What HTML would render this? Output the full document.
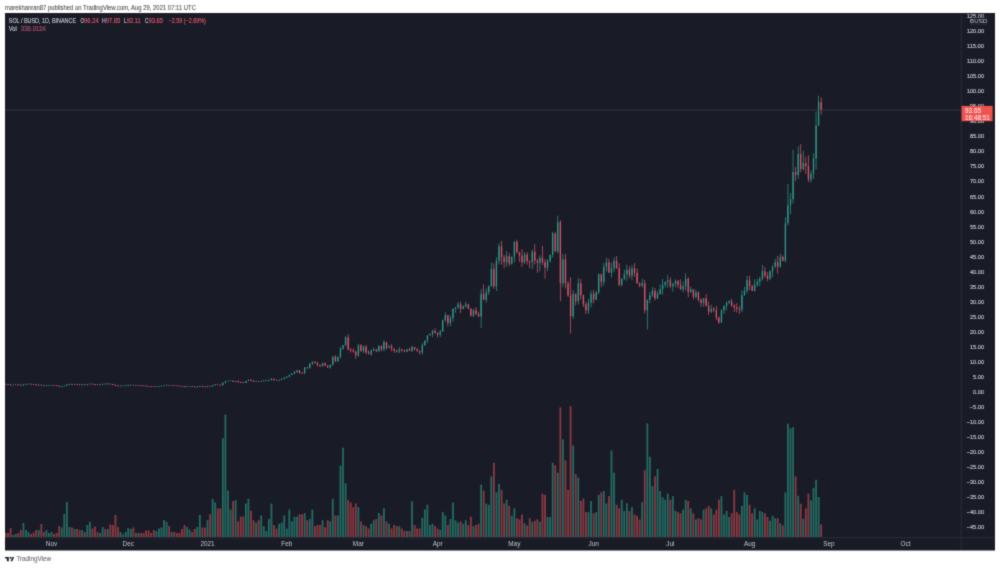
<!DOCTYPE html>
<html><head><meta charset="utf-8"><style>
html,body{margin:0;padding:0;background:#fff;width:1000px;height:568px;overflow:hidden}
svg{display:block} #w{will-change:transform;width:1000px;height:568px}
</style></head><body><div id="w">
<svg width="1000" height="568" viewBox="0 0 1000 568"><filter id="bl" x="0" y="0" width="1000" height="568" filterUnits="userSpaceOnUse" color-interpolation-filters="sRGB"><feConvolveMatrix order="3" kernelMatrix="1 2 1 2 14 2 1 2 1" edgeMode="duplicate" preserveAlpha="true"/></filter><g filter="url(#bl)"><rect x="0" y="0" width="1000" height="568" fill="#ffffff"/><rect x="5" y="13" width="990" height="537.5" fill="#191b26"/><clipPath id="cp"><rect x="5" y="13.5" width="956" height="524"/></clipPath><clipPath id="ca"><rect x="5" y="13.5" width="990" height="537"/></clipPath><g clip-path="url(#cp)"><rect x="2.04" y="530.00" width="1.8" height="7.00" fill="#236d64"/><rect x="4.60" y="533.00" width="1.8" height="4.00" fill="#8e3a42"/><rect x="7.15" y="533.00" width="1.8" height="4.00" fill="#8e3a42"/><rect x="9.71" y="528.00" width="1.8" height="9.00" fill="#8e3a42"/><rect x="12.27" y="535.00" width="1.8" height="2.00" fill="#236d64"/><rect x="14.82" y="534.00" width="1.8" height="3.00" fill="#236d64"/><rect x="17.38" y="533.00" width="1.8" height="4.00" fill="#8e3a42"/><rect x="19.94" y="530.00" width="1.8" height="7.00" fill="#8e3a42"/><rect x="22.50" y="523.00" width="1.8" height="14.00" fill="#236d64"/><rect x="25.05" y="530.00" width="1.8" height="7.00" fill="#236d64"/><rect x="27.61" y="532.00" width="1.8" height="5.00" fill="#236d64"/><rect x="30.17" y="534.00" width="1.8" height="3.00" fill="#8e3a42"/><rect x="32.72" y="532.50" width="1.8" height="4.50" fill="#8e3a42"/><rect x="35.28" y="530.00" width="1.8" height="7.00" fill="#8e3a42"/><rect x="37.84" y="530.00" width="1.8" height="7.00" fill="#236d64"/><rect x="40.40" y="524.00" width="1.8" height="13.00" fill="#8e3a42"/><rect x="42.95" y="532.00" width="1.8" height="5.00" fill="#8e3a42"/><rect x="45.51" y="530.00" width="1.8" height="7.00" fill="#236d64"/><rect x="48.07" y="533.00" width="1.8" height="4.00" fill="#236d64"/><rect x="50.62" y="532.00" width="1.8" height="5.00" fill="#236d64"/><rect x="53.18" y="534.00" width="1.8" height="3.00" fill="#8e3a42"/><rect x="55.74" y="533.00" width="1.8" height="4.00" fill="#8e3a42"/><rect x="58.29" y="526.00" width="1.8" height="11.00" fill="#8e3a42"/><rect x="60.85" y="527.50" width="1.8" height="9.50" fill="#236d64"/><rect x="63.41" y="514.00" width="1.8" height="23.00" fill="#236d64"/><rect x="65.97" y="502.00" width="1.8" height="35.00" fill="#236d64"/><rect x="68.52" y="527.00" width="1.8" height="10.00" fill="#236d64"/><rect x="71.08" y="527.50" width="1.8" height="9.50" fill="#8e3a42"/><rect x="73.64" y="529.00" width="1.8" height="8.00" fill="#236d64"/><rect x="76.19" y="529.00" width="1.8" height="8.00" fill="#8e3a42"/><rect x="78.75" y="530.00" width="1.8" height="7.00" fill="#8e3a42"/><rect x="81.31" y="530.00" width="1.8" height="7.00" fill="#236d64"/><rect x="83.86" y="532.00" width="1.8" height="5.00" fill="#8e3a42"/><rect x="86.42" y="525.00" width="1.8" height="12.00" fill="#236d64"/><rect x="88.98" y="522.00" width="1.8" height="15.00" fill="#236d64"/><rect x="91.53" y="528.50" width="1.8" height="8.50" fill="#8e3a42"/><rect x="94.09" y="526.50" width="1.8" height="10.50" fill="#8e3a42"/><rect x="96.65" y="532.00" width="1.8" height="5.00" fill="#8e3a42"/><rect x="99.21" y="533.00" width="1.8" height="4.00" fill="#236d64"/><rect x="101.76" y="527.00" width="1.8" height="10.00" fill="#236d64"/><rect x="104.32" y="529.00" width="1.8" height="8.00" fill="#8e3a42"/><rect x="106.88" y="529.00" width="1.8" height="8.00" fill="#236d64"/><rect x="109.43" y="524.50" width="1.8" height="12.50" fill="#8e3a42"/><rect x="111.99" y="525.00" width="1.8" height="12.00" fill="#8e3a42"/><rect x="114.55" y="515.00" width="1.8" height="22.00" fill="#8e3a42"/><rect x="117.10" y="527.00" width="1.8" height="10.00" fill="#8e3a42"/><rect x="119.66" y="532.00" width="1.8" height="5.00" fill="#236d64"/><rect x="122.22" y="534.50" width="1.8" height="2.50" fill="#236d64"/><rect x="124.78" y="532.00" width="1.8" height="5.00" fill="#236d64"/><rect x="127.33" y="528.00" width="1.8" height="9.00" fill="#236d64"/><rect x="129.89" y="529.00" width="1.8" height="8.00" fill="#236d64"/><rect x="132.45" y="527.50" width="1.8" height="9.50" fill="#8e3a42"/><rect x="135.00" y="533.00" width="1.8" height="4.00" fill="#8e3a42"/><rect x="137.56" y="533.00" width="1.8" height="4.00" fill="#236d64"/><rect x="140.12" y="533.00" width="1.8" height="4.00" fill="#8e3a42"/><rect x="142.67" y="533.00" width="1.8" height="4.00" fill="#8e3a42"/><rect x="145.23" y="530.50" width="1.8" height="6.50" fill="#8e3a42"/><rect x="147.79" y="530.50" width="1.8" height="6.50" fill="#8e3a42"/><rect x="150.35" y="533.00" width="1.8" height="4.00" fill="#8e3a42"/><rect x="152.90" y="530.00" width="1.8" height="7.00" fill="#8e3a42"/><rect x="155.46" y="531.00" width="1.8" height="6.00" fill="#236d64"/><rect x="158.02" y="528.50" width="1.8" height="8.50" fill="#236d64"/><rect x="160.57" y="527.50" width="1.8" height="9.50" fill="#236d64"/><rect x="163.13" y="520.00" width="1.8" height="17.00" fill="#236d64"/><rect x="165.69" y="522.00" width="1.8" height="15.00" fill="#236d64"/><rect x="168.25" y="526.00" width="1.8" height="11.00" fill="#8e3a42"/><rect x="170.80" y="532.00" width="1.8" height="5.00" fill="#236d64"/><rect x="173.36" y="532.00" width="1.8" height="5.00" fill="#8e3a42"/><rect x="175.92" y="533.00" width="1.8" height="4.00" fill="#8e3a42"/><rect x="178.47" y="533.00" width="1.8" height="4.00" fill="#8e3a42"/><rect x="181.03" y="529.00" width="1.8" height="8.00" fill="#8e3a42"/><rect x="183.59" y="525.00" width="1.8" height="12.00" fill="#8e3a42"/><rect x="186.14" y="527.00" width="1.8" height="10.00" fill="#236d64"/><rect x="188.70" y="529.50" width="1.8" height="7.50" fill="#236d64"/><rect x="191.26" y="532.00" width="1.8" height="5.00" fill="#8e3a42"/><rect x="193.81" y="529.00" width="1.8" height="8.00" fill="#8e3a42"/><rect x="196.37" y="527.00" width="1.8" height="10.00" fill="#236d64"/><rect x="198.93" y="515.00" width="1.8" height="22.00" fill="#236d64"/><rect x="201.49" y="527.50" width="1.8" height="9.50" fill="#8e3a42"/><rect x="204.04" y="527.50" width="1.8" height="9.50" fill="#8e3a42"/><rect x="206.60" y="520.20" width="1.8" height="16.80" fill="#236d64"/><rect x="209.16" y="514.26" width="1.8" height="22.74" fill="#8e3a42"/><rect x="211.71" y="498.82" width="1.8" height="38.18" fill="#236d64"/><rect x="214.27" y="502.39" width="1.8" height="34.61" fill="#236d64"/><rect x="216.83" y="508.33" width="1.8" height="28.67" fill="#8e3a42"/><rect x="219.38" y="508.33" width="1.8" height="28.67" fill="#8e3a42"/><rect x="221.94" y="438.25" width="1.8" height="98.75" fill="#236d64"/><rect x="224.50" y="414.50" width="1.8" height="122.50" fill="#236d64"/><rect x="227.06" y="490.51" width="1.8" height="46.49" fill="#236d64"/><rect x="229.61" y="509.51" width="1.8" height="27.49" fill="#236d64"/><rect x="232.17" y="501.20" width="1.8" height="35.80" fill="#8e3a42"/><rect x="234.73" y="500.01" width="1.8" height="36.99" fill="#236d64"/><rect x="237.28" y="521.39" width="1.8" height="15.61" fill="#8e3a42"/><rect x="239.84" y="516.64" width="1.8" height="20.36" fill="#8e3a42"/><rect x="242.40" y="516.64" width="1.8" height="20.36" fill="#8e3a42"/><rect x="244.95" y="503.57" width="1.8" height="33.43" fill="#236d64"/><rect x="247.51" y="498.82" width="1.8" height="38.18" fill="#236d64"/><rect x="250.07" y="510.70" width="1.8" height="26.30" fill="#8e3a42"/><rect x="252.63" y="520.20" width="1.8" height="16.80" fill="#8e3a42"/><rect x="255.18" y="522.58" width="1.8" height="14.42" fill="#236d64"/><rect x="257.74" y="520.20" width="1.8" height="16.80" fill="#8e3a42"/><rect x="260.30" y="515.45" width="1.8" height="21.55" fill="#236d64"/><rect x="262.85" y="526.14" width="1.8" height="10.86" fill="#236d64"/><rect x="265.41" y="530.89" width="1.8" height="6.11" fill="#236d64"/><rect x="267.97" y="519.01" width="1.8" height="17.99" fill="#236d64"/><rect x="270.53" y="503.57" width="1.8" height="33.43" fill="#236d64"/><rect x="273.08" y="524.95" width="1.8" height="12.05" fill="#8e3a42"/><rect x="275.64" y="528.52" width="1.8" height="8.48" fill="#8e3a42"/><rect x="278.20" y="523.76" width="1.8" height="13.24" fill="#236d64"/><rect x="280.75" y="522.58" width="1.8" height="14.42" fill="#236d64"/><rect x="283.31" y="515.45" width="1.8" height="21.55" fill="#236d64"/><rect x="285.87" y="528.52" width="1.8" height="8.48" fill="#236d64"/><rect x="288.42" y="509.51" width="1.8" height="27.49" fill="#236d64"/><rect x="290.98" y="521.39" width="1.8" height="15.61" fill="#236d64"/><rect x="293.54" y="516.64" width="1.8" height="20.36" fill="#236d64"/><rect x="296.10" y="516.64" width="1.8" height="20.36" fill="#236d64"/><rect x="298.65" y="514.26" width="1.8" height="22.74" fill="#8e3a42"/><rect x="301.21" y="514.26" width="1.8" height="22.74" fill="#8e3a42"/><rect x="303.77" y="513.08" width="1.8" height="23.92" fill="#236d64"/><rect x="306.32" y="520.20" width="1.8" height="16.80" fill="#8e3a42"/><rect x="308.88" y="519.01" width="1.8" height="17.99" fill="#236d64"/><rect x="311.44" y="509.51" width="1.8" height="27.49" fill="#236d64"/><rect x="313.99" y="526.14" width="1.8" height="10.86" fill="#8e3a42"/><rect x="316.55" y="524.95" width="1.8" height="12.05" fill="#8e3a42"/><rect x="319.11" y="524.95" width="1.8" height="12.05" fill="#8e3a42"/><rect x="321.67" y="520.20" width="1.8" height="16.80" fill="#236d64"/><rect x="324.22" y="527.33" width="1.8" height="9.67" fill="#8e3a42"/><rect x="326.78" y="520.20" width="1.8" height="16.80" fill="#8e3a42"/><rect x="329.34" y="521.39" width="1.8" height="15.61" fill="#236d64"/><rect x="331.89" y="498.82" width="1.8" height="38.18" fill="#236d64"/><rect x="334.45" y="515.45" width="1.8" height="21.55" fill="#8e3a42"/><rect x="337.01" y="515.45" width="1.8" height="21.55" fill="#236d64"/><rect x="339.56" y="465.57" width="1.8" height="71.43" fill="#236d64"/><rect x="342.12" y="447.76" width="1.8" height="89.24" fill="#236d64"/><rect x="344.68" y="483.38" width="1.8" height="53.62" fill="#236d64"/><rect x="347.24" y="500.01" width="1.8" height="36.99" fill="#8e3a42"/><rect x="349.79" y="502.39" width="1.8" height="34.61" fill="#8e3a42"/><rect x="352.35" y="507.14" width="1.8" height="29.86" fill="#8e3a42"/><rect x="354.91" y="503.57" width="1.8" height="33.43" fill="#8e3a42"/><rect x="357.46" y="507.14" width="1.8" height="29.86" fill="#236d64"/><rect x="360.02" y="521.39" width="1.8" height="15.61" fill="#8e3a42"/><rect x="362.58" y="524.95" width="1.8" height="12.05" fill="#236d64"/><rect x="365.13" y="526.14" width="1.8" height="10.86" fill="#8e3a42"/><rect x="367.69" y="528.52" width="1.8" height="8.48" fill="#8e3a42"/><rect x="370.25" y="523.76" width="1.8" height="13.24" fill="#236d64"/><rect x="372.81" y="520.20" width="1.8" height="16.80" fill="#236d64"/><rect x="375.36" y="519.01" width="1.8" height="17.99" fill="#8e3a42"/><rect x="377.92" y="513.08" width="1.8" height="23.92" fill="#236d64"/><rect x="380.48" y="515.45" width="1.8" height="21.55" fill="#8e3a42"/><rect x="383.03" y="508.33" width="1.8" height="28.67" fill="#236d64"/><rect x="385.59" y="521.39" width="1.8" height="15.61" fill="#8e3a42"/><rect x="388.15" y="523.76" width="1.8" height="13.24" fill="#236d64"/><rect x="390.70" y="528.52" width="1.8" height="8.48" fill="#8e3a42"/><rect x="393.26" y="524.95" width="1.8" height="12.05" fill="#8e3a42"/><rect x="395.82" y="526.14" width="1.8" height="10.86" fill="#8e3a42"/><rect x="398.38" y="526.14" width="1.8" height="10.86" fill="#236d64"/><rect x="400.93" y="528.52" width="1.8" height="8.48" fill="#8e3a42"/><rect x="403.49" y="530.89" width="1.8" height="6.11" fill="#8e3a42"/><rect x="406.05" y="530.89" width="1.8" height="6.11" fill="#236d64"/><rect x="408.60" y="530.89" width="1.8" height="6.11" fill="#8e3a42"/><rect x="411.16" y="501.20" width="1.8" height="35.80" fill="#236d64"/><rect x="413.72" y="524.95" width="1.8" height="12.05" fill="#8e3a42"/><rect x="416.27" y="528.52" width="1.8" height="8.48" fill="#8e3a42"/><rect x="418.83" y="528.52" width="1.8" height="8.48" fill="#8e3a42"/><rect x="421.39" y="517.83" width="1.8" height="19.17" fill="#236d64"/><rect x="423.95" y="509.51" width="1.8" height="27.49" fill="#236d64"/><rect x="426.50" y="504.76" width="1.8" height="32.24" fill="#236d64"/><rect x="429.06" y="524.95" width="1.8" height="12.05" fill="#236d64"/><rect x="431.62" y="523.76" width="1.8" height="13.24" fill="#236d64"/><rect x="434.17" y="526.14" width="1.8" height="10.86" fill="#8e3a42"/><rect x="436.73" y="528.52" width="1.8" height="8.48" fill="#8e3a42"/><rect x="439.29" y="529.70" width="1.8" height="7.30" fill="#236d64"/><rect x="441.84" y="511.89" width="1.8" height="25.11" fill="#236d64"/><rect x="444.40" y="515.45" width="1.8" height="21.55" fill="#236d64"/><rect x="446.96" y="524.95" width="1.8" height="12.05" fill="#8e3a42"/><rect x="449.51" y="519.01" width="1.8" height="17.99" fill="#236d64"/><rect x="452.07" y="502.39" width="1.8" height="34.61" fill="#236d64"/><rect x="454.63" y="520.20" width="1.8" height="16.80" fill="#236d64"/><rect x="457.19" y="522.58" width="1.8" height="14.42" fill="#236d64"/><rect x="459.74" y="521.39" width="1.8" height="15.61" fill="#8e3a42"/><rect x="462.30" y="523.76" width="1.8" height="13.24" fill="#236d64"/><rect x="464.86" y="520.20" width="1.8" height="16.80" fill="#236d64"/><rect x="467.41" y="524.95" width="1.8" height="12.05" fill="#8e3a42"/><rect x="469.97" y="516.64" width="1.8" height="20.36" fill="#8e3a42"/><rect x="472.53" y="526.14" width="1.8" height="10.86" fill="#236d64"/><rect x="475.09" y="524.95" width="1.8" height="12.05" fill="#8e3a42"/><rect x="477.64" y="523.76" width="1.8" height="13.24" fill="#8e3a42"/><rect x="480.20" y="484.57" width="1.8" height="52.43" fill="#236d64"/><rect x="482.76" y="490.51" width="1.8" height="46.49" fill="#8e3a42"/><rect x="485.31" y="503.57" width="1.8" height="33.43" fill="#236d64"/><rect x="487.87" y="504.76" width="1.8" height="32.24" fill="#236d64"/><rect x="490.43" y="476.35" width="1.8" height="60.65" fill="#236d64"/><rect x="492.98" y="462.81" width="1.8" height="74.19" fill="#8e3a42"/><rect x="495.54" y="492.36" width="1.8" height="44.64" fill="#236d64"/><rect x="498.10" y="483.74" width="1.8" height="53.26" fill="#236d64"/><rect x="500.66" y="489.90" width="1.8" height="47.10" fill="#8e3a42"/><rect x="503.21" y="503.45" width="1.8" height="33.55" fill="#8e3a42"/><rect x="505.77" y="499.75" width="1.8" height="37.25" fill="#236d64"/><rect x="508.33" y="505.91" width="1.8" height="31.09" fill="#8e3a42"/><rect x="510.88" y="515.76" width="1.8" height="21.24" fill="#236d64"/><rect x="513.44" y="508.37" width="1.8" height="28.63" fill="#236d64"/><rect x="516.00" y="518.23" width="1.8" height="18.77" fill="#8e3a42"/><rect x="518.55" y="519.46" width="1.8" height="17.54" fill="#8e3a42"/><rect x="521.11" y="514.53" width="1.8" height="22.47" fill="#8e3a42"/><rect x="523.67" y="523.15" width="1.8" height="13.85" fill="#236d64"/><rect x="526.23" y="525.62" width="1.8" height="11.38" fill="#8e3a42"/><rect x="528.78" y="518.23" width="1.8" height="18.77" fill="#8e3a42"/><rect x="531.34" y="521.92" width="1.8" height="15.08" fill="#236d64"/><rect x="533.90" y="520.69" width="1.8" height="16.31" fill="#8e3a42"/><rect x="536.45" y="519.46" width="1.8" height="17.54" fill="#8e3a42"/><rect x="539.01" y="521.92" width="1.8" height="15.08" fill="#236d64"/><rect x="541.57" y="493.60" width="1.8" height="43.40" fill="#8e3a42"/><rect x="544.12" y="494.83" width="1.8" height="42.17" fill="#8e3a42"/><rect x="546.68" y="517.00" width="1.8" height="20.00" fill="#236d64"/><rect x="549.24" y="517.00" width="1.8" height="20.00" fill="#236d64"/><rect x="551.79" y="462.81" width="1.8" height="74.19" fill="#236d64"/><rect x="554.35" y="465.27" width="1.8" height="71.73" fill="#8e3a42"/><rect x="556.91" y="472.66" width="1.8" height="64.34" fill="#236d64"/><rect x="559.47" y="407.39" width="1.8" height="129.61" fill="#8e3a42"/><rect x="562.02" y="439.41" width="1.8" height="97.59" fill="#236d64"/><rect x="564.58" y="460.34" width="1.8" height="76.66" fill="#8e3a42"/><rect x="567.14" y="489.90" width="1.8" height="47.10" fill="#8e3a42"/><rect x="569.69" y="406.16" width="1.8" height="130.84" fill="#8e3a42"/><rect x="572.25" y="445.57" width="1.8" height="91.43" fill="#236d64"/><rect x="574.81" y="473.89" width="1.8" height="63.11" fill="#8e3a42"/><rect x="577.37" y="477.59" width="1.8" height="59.41" fill="#236d64"/><rect x="579.92" y="500.99" width="1.8" height="36.01" fill="#8e3a42"/><rect x="582.48" y="498.52" width="1.8" height="38.48" fill="#8e3a42"/><rect x="585.04" y="512.07" width="1.8" height="24.93" fill="#8e3a42"/><rect x="587.59" y="512.07" width="1.8" height="24.93" fill="#236d64"/><rect x="590.15" y="500.99" width="1.8" height="36.01" fill="#236d64"/><rect x="592.71" y="513.30" width="1.8" height="23.70" fill="#8e3a42"/><rect x="595.26" y="512.07" width="1.8" height="24.93" fill="#236d64"/><rect x="597.82" y="494.83" width="1.8" height="42.17" fill="#236d64"/><rect x="600.38" y="492.36" width="1.8" height="44.64" fill="#8e3a42"/><rect x="602.94" y="491.13" width="1.8" height="45.87" fill="#236d64"/><rect x="605.49" y="503.45" width="1.8" height="33.55" fill="#236d64"/><rect x="608.05" y="496.06" width="1.8" height="40.94" fill="#8e3a42"/><rect x="610.61" y="450.49" width="1.8" height="86.51" fill="#236d64"/><rect x="613.16" y="472.66" width="1.8" height="64.34" fill="#236d64"/><rect x="615.72" y="504.68" width="1.8" height="32.32" fill="#8e3a42"/><rect x="618.28" y="508.37" width="1.8" height="28.63" fill="#8e3a42"/><rect x="620.83" y="499.75" width="1.8" height="37.25" fill="#236d64"/><rect x="623.39" y="510.84" width="1.8" height="26.16" fill="#236d64"/><rect x="625.95" y="503.45" width="1.8" height="33.55" fill="#236d64"/><rect x="628.50" y="510.84" width="1.8" height="26.16" fill="#8e3a42"/><rect x="631.06" y="507.14" width="1.8" height="29.86" fill="#236d64"/><rect x="633.62" y="514.53" width="1.8" height="22.47" fill="#8e3a42"/><rect x="636.18" y="515.76" width="1.8" height="21.24" fill="#8e3a42"/><rect x="638.73" y="519.46" width="1.8" height="17.54" fill="#8e3a42"/><rect x="641.29" y="502.22" width="1.8" height="34.78" fill="#236d64"/><rect x="643.85" y="470.20" width="1.8" height="66.80" fill="#8e3a42"/><rect x="646.40" y="423.40" width="1.8" height="113.60" fill="#236d64"/><rect x="648.96" y="456.65" width="1.8" height="80.35" fill="#236d64"/><rect x="651.52" y="486.21" width="1.8" height="50.79" fill="#236d64"/><rect x="654.07" y="476.35" width="1.8" height="60.65" fill="#8e3a42"/><rect x="656.63" y="468.97" width="1.8" height="68.03" fill="#236d64"/><rect x="659.19" y="491.13" width="1.8" height="45.87" fill="#236d64"/><rect x="661.75" y="497.29" width="1.8" height="39.71" fill="#236d64"/><rect x="664.30" y="499.75" width="1.8" height="37.25" fill="#236d64"/><rect x="666.86" y="493.60" width="1.8" height="43.40" fill="#236d64"/><rect x="669.42" y="499.75" width="1.8" height="37.25" fill="#8e3a42"/><rect x="671.97" y="496.06" width="1.8" height="40.94" fill="#236d64"/><rect x="674.53" y="510.84" width="1.8" height="26.16" fill="#236d64"/><rect x="677.09" y="512.07" width="1.8" height="24.93" fill="#8e3a42"/><rect x="679.65" y="513.30" width="1.8" height="23.70" fill="#8e3a42"/><rect x="682.20" y="509.61" width="1.8" height="27.39" fill="#236d64"/><rect x="684.76" y="499.75" width="1.8" height="37.25" fill="#236d64"/><rect x="687.32" y="500.99" width="1.8" height="36.01" fill="#8e3a42"/><rect x="689.87" y="508.37" width="1.8" height="28.63" fill="#236d64"/><rect x="692.43" y="513.30" width="1.8" height="23.70" fill="#8e3a42"/><rect x="694.99" y="519.46" width="1.8" height="17.54" fill="#236d64"/><rect x="697.54" y="518.23" width="1.8" height="18.77" fill="#8e3a42"/><rect x="700.10" y="519.46" width="1.8" height="17.54" fill="#8e3a42"/><rect x="702.66" y="509.61" width="1.8" height="27.39" fill="#236d64"/><rect x="705.22" y="508.37" width="1.8" height="28.63" fill="#8e3a42"/><rect x="707.77" y="505.91" width="1.8" height="31.09" fill="#8e3a42"/><rect x="710.33" y="508.37" width="1.8" height="28.63" fill="#236d64"/><rect x="712.89" y="514.53" width="1.8" height="22.47" fill="#8e3a42"/><rect x="715.44" y="509.61" width="1.8" height="27.39" fill="#8e3a42"/><rect x="718.00" y="499.75" width="1.8" height="37.25" fill="#8e3a42"/><rect x="720.56" y="496.06" width="1.8" height="40.94" fill="#236d64"/><rect x="723.11" y="514.53" width="1.8" height="22.47" fill="#236d64"/><rect x="725.67" y="510.84" width="1.8" height="26.16" fill="#236d64"/><rect x="728.23" y="517.00" width="1.8" height="20.00" fill="#236d64"/><rect x="730.78" y="513.30" width="1.8" height="23.70" fill="#8e3a42"/><rect x="733.34" y="489.90" width="1.8" height="47.10" fill="#8e3a42"/><rect x="735.90" y="512.07" width="1.8" height="24.93" fill="#8e3a42"/><rect x="738.46" y="514.53" width="1.8" height="22.47" fill="#8e3a42"/><rect x="741.01" y="505.91" width="1.8" height="31.09" fill="#236d64"/><rect x="743.57" y="492.36" width="1.8" height="44.64" fill="#236d64"/><rect x="746.13" y="494.83" width="1.8" height="42.17" fill="#236d64"/><rect x="748.68" y="504.68" width="1.8" height="32.32" fill="#8e3a42"/><rect x="751.24" y="513.30" width="1.8" height="23.70" fill="#8e3a42"/><rect x="753.80" y="508.37" width="1.8" height="28.63" fill="#236d64"/><rect x="756.36" y="519.46" width="1.8" height="17.54" fill="#236d64"/><rect x="758.91" y="510.84" width="1.8" height="26.16" fill="#236d64"/><rect x="761.47" y="512.07" width="1.8" height="24.93" fill="#236d64"/><rect x="764.03" y="513.30" width="1.8" height="23.70" fill="#8e3a42"/><rect x="766.58" y="517.00" width="1.8" height="20.00" fill="#8e3a42"/><rect x="769.14" y="520.69" width="1.8" height="16.31" fill="#236d64"/><rect x="771.70" y="515.76" width="1.8" height="21.24" fill="#236d64"/><rect x="774.25" y="518.23" width="1.8" height="18.77" fill="#236d64"/><rect x="776.81" y="518.23" width="1.8" height="18.77" fill="#8e3a42"/><rect x="779.37" y="523.27" width="1.8" height="13.73" fill="#236d64"/><rect x="781.92" y="525.56" width="1.8" height="11.44" fill="#8e3a42"/><rect x="784.48" y="492.38" width="1.8" height="44.62" fill="#236d64"/><rect x="787.04" y="423.73" width="1.8" height="113.27" fill="#236d64"/><rect x="789.60" y="428.31" width="1.8" height="108.69" fill="#236d64"/><rect x="792.15" y="427.16" width="1.8" height="109.84" fill="#236d64"/><rect x="794.71" y="476.36" width="1.8" height="60.64" fill="#8e3a42"/><rect x="797.27" y="495.81" width="1.8" height="41.19" fill="#236d64"/><rect x="799.82" y="503.82" width="1.8" height="33.18" fill="#8e3a42"/><rect x="802.38" y="518.70" width="1.8" height="18.30" fill="#236d64"/><rect x="804.94" y="508.40" width="1.8" height="28.60" fill="#8e3a42"/><rect x="807.50" y="493.52" width="1.8" height="43.48" fill="#8e3a42"/><rect x="810.05" y="500.39" width="1.8" height="36.61" fill="#236d64"/><rect x="812.61" y="487.80" width="1.8" height="49.20" fill="#236d64"/><rect x="815.17" y="479.79" width="1.8" height="57.21" fill="#236d64"/><rect x="817.72" y="496.96" width="1.8" height="40.04" fill="#236d64"/><rect x="820.28" y="524.42" width="1.8" height="12.58" fill="#8e3a42"/></g><g clip-path="url(#cp)"><rect x="2.59" y="383.97" width="0.7" height="0.25" fill="#2b9f8f"/><rect x="2.29" y="383.84" width="1.3" height="0.60" fill="#2b9f8f"/><rect x="5.15" y="383.84" width="0.7" height="0.50" fill="#e5546a"/><rect x="4.85" y="383.84" width="1.3" height="0.75" fill="#e5546a"/><rect x="7.70" y="384.04" width="0.7" height="0.71" fill="#e5546a"/><rect x="7.40" y="383.99" width="1.3" height="0.90" fill="#e5546a"/><rect x="10.26" y="384.53" width="0.7" height="0.71" fill="#e5546a"/><rect x="9.96" y="384.29" width="1.3" height="1.05" fill="#e5546a"/><rect x="12.82" y="384.84" width="0.7" height="0.38" fill="#2b9f8f"/><rect x="12.52" y="384.59" width="1.3" height="0.75" fill="#2b9f8f"/><rect x="15.37" y="384.53" width="0.7" height="0.42" fill="#2b9f8f"/><rect x="15.07" y="384.29" width="1.3" height="0.90" fill="#2b9f8f"/><rect x="17.93" y="384.39" width="0.7" height="0.82" fill="#e5546a"/><rect x="17.63" y="384.29" width="1.3" height="0.90" fill="#e5546a"/><rect x="20.49" y="384.81" width="0.7" height="0.63" fill="#e5546a"/><rect x="20.19" y="384.59" width="1.3" height="1.05" fill="#e5546a"/><rect x="23.05" y="384.16" width="0.7" height="1.53" fill="#2b9f8f"/><rect x="22.75" y="384.44" width="1.3" height="0.90" fill="#2b9f8f"/><rect x="25.60" y="383.87" width="0.7" height="0.75" fill="#2b9f8f"/><rect x="25.30" y="383.84" width="1.3" height="0.90" fill="#2b9f8f"/><rect x="28.16" y="383.55" width="0.7" height="0.63" fill="#2b9f8f"/><rect x="27.86" y="383.69" width="1.3" height="0.75" fill="#2b9f8f"/><rect x="30.72" y="383.60" width="0.7" height="0.83" fill="#e5546a"/><rect x="30.42" y="383.69" width="1.3" height="0.90" fill="#e5546a"/><rect x="33.27" y="384.20" width="0.7" height="0.46" fill="#e5546a"/><rect x="32.97" y="383.99" width="1.3" height="0.90" fill="#e5546a"/><rect x="35.83" y="384.44" width="0.7" height="0.92" fill="#e5546a"/><rect x="35.53" y="384.29" width="1.3" height="1.05" fill="#e5546a"/><rect x="38.39" y="384.64" width="0.7" height="0.63" fill="#2b9f8f"/><rect x="38.09" y="384.44" width="1.3" height="0.90" fill="#2b9f8f"/><rect x="40.95" y="384.47" width="0.7" height="1.17" fill="#e5546a"/><rect x="40.65" y="384.74" width="1.3" height="0.75" fill="#e5546a"/><rect x="43.50" y="385.28" width="0.7" height="0.56" fill="#e5546a"/><rect x="43.20" y="385.19" width="1.3" height="0.90" fill="#e5546a"/><rect x="46.06" y="385.44" width="0.7" height="0.45" fill="#2b9f8f"/><rect x="45.76" y="385.19" width="1.3" height="0.90" fill="#2b9f8f"/><rect x="48.62" y="385.08" width="0.7" height="0.58" fill="#2b9f8f"/><rect x="48.32" y="385.04" width="1.3" height="0.75" fill="#2b9f8f"/><rect x="51.17" y="385.05" width="0.7" height="0.52" fill="#2b9f8f"/><rect x="50.87" y="384.89" width="1.3" height="0.75" fill="#2b9f8f"/><rect x="53.73" y="385.00" width="0.7" height="0.62" fill="#e5546a"/><rect x="53.43" y="384.89" width="1.3" height="0.90" fill="#e5546a"/><rect x="56.29" y="385.20" width="0.7" height="0.84" fill="#e5546a"/><rect x="55.99" y="385.19" width="1.3" height="0.90" fill="#e5546a"/><rect x="58.84" y="385.68" width="0.7" height="1.19" fill="#e5546a"/><rect x="58.54" y="385.79" width="1.3" height="0.90" fill="#e5546a"/><rect x="61.40" y="386.06" width="0.7" height="0.89" fill="#2b9f8f"/><rect x="61.10" y="385.94" width="1.3" height="1.05" fill="#2b9f8f"/><rect x="63.96" y="385.37" width="0.7" height="0.98" fill="#2b9f8f"/><rect x="63.66" y="385.64" width="1.3" height="0.60" fill="#2b9f8f"/><rect x="66.52" y="384.18" width="0.7" height="1.52" fill="#2b9f8f"/><rect x="66.22" y="384.59" width="1.3" height="1.05" fill="#2b9f8f"/><rect x="69.07" y="383.94" width="0.7" height="0.97" fill="#2b9f8f"/><rect x="68.77" y="383.84" width="1.3" height="1.05" fill="#2b9f8f"/><rect x="71.63" y="384.04" width="0.7" height="0.76" fill="#e5546a"/><rect x="71.33" y="383.84" width="1.3" height="1.05" fill="#e5546a"/><rect x="74.19" y="384.24" width="0.7" height="0.63" fill="#2b9f8f"/><rect x="73.89" y="383.99" width="1.3" height="0.90" fill="#2b9f8f"/><rect x="76.74" y="383.95" width="0.7" height="0.88" fill="#e5546a"/><rect x="76.44" y="383.99" width="1.3" height="0.90" fill="#e5546a"/><rect x="79.30" y="384.22" width="0.7" height="0.81" fill="#e5546a"/><rect x="79.00" y="384.29" width="1.3" height="0.90" fill="#e5546a"/><rect x="81.86" y="384.29" width="0.7" height="0.84" fill="#2b9f8f"/><rect x="81.56" y="384.29" width="1.3" height="0.90" fill="#2b9f8f"/><rect x="84.41" y="384.34" width="0.7" height="0.75" fill="#e5546a"/><rect x="84.11" y="384.29" width="1.3" height="0.90" fill="#e5546a"/><rect x="86.97" y="383.92" width="0.7" height="1.34" fill="#2b9f8f"/><rect x="86.67" y="384.29" width="1.3" height="0.60" fill="#2b9f8f"/><rect x="89.53" y="383.45" width="0.7" height="1.13" fill="#2b9f8f"/><rect x="89.23" y="383.68" width="1.3" height="0.60" fill="#2b9f8f"/><rect x="92.09" y="383.63" width="0.7" height="0.97" fill="#e5546a"/><rect x="91.78" y="383.68" width="1.3" height="0.60" fill="#e5546a"/><rect x="94.64" y="384.00" width="0.7" height="1.14" fill="#e5546a"/><rect x="94.34" y="383.99" width="1.3" height="1.05" fill="#e5546a"/><rect x="97.20" y="384.40" width="0.7" height="0.62" fill="#e5546a"/><rect x="96.90" y="384.44" width="1.3" height="0.75" fill="#e5546a"/><rect x="99.76" y="384.41" width="0.7" height="0.75" fill="#2b9f8f"/><rect x="99.46" y="384.29" width="1.3" height="0.90" fill="#2b9f8f"/><rect x="102.31" y="383.80" width="0.7" height="1.00" fill="#2b9f8f"/><rect x="102.01" y="383.83" width="1.3" height="0.75" fill="#2b9f8f"/><rect x="104.87" y="383.73" width="0.7" height="0.48" fill="#e5546a"/><rect x="104.57" y="383.53" width="1.3" height="0.90" fill="#e5546a"/><rect x="107.43" y="383.63" width="0.7" height="0.85" fill="#2b9f8f"/><rect x="107.13" y="383.38" width="1.3" height="1.05" fill="#2b9f8f"/><rect x="109.98" y="383.60" width="0.7" height="0.82" fill="#e5546a"/><rect x="109.68" y="383.68" width="1.3" height="0.60" fill="#e5546a"/><rect x="112.54" y="384.10" width="0.7" height="0.99" fill="#e5546a"/><rect x="112.24" y="383.99" width="1.3" height="1.05" fill="#e5546a"/><rect x="115.10" y="384.68" width="0.7" height="1.28" fill="#e5546a"/><rect x="114.80" y="384.74" width="1.3" height="1.05" fill="#e5546a"/><rect x="117.66" y="385.59" width="0.7" height="0.80" fill="#e5546a"/><rect x="117.35" y="385.49" width="1.3" height="0.90" fill="#e5546a"/><rect x="120.21" y="385.66" width="0.7" height="0.72" fill="#2b9f8f"/><rect x="119.91" y="385.64" width="1.3" height="0.75" fill="#2b9f8f"/><rect x="122.77" y="385.67" width="0.7" height="0.42" fill="#2b9f8f"/><rect x="122.47" y="385.49" width="1.3" height="0.75" fill="#2b9f8f"/><rect x="125.33" y="385.49" width="0.7" height="0.60" fill="#2b9f8f"/><rect x="125.03" y="385.34" width="1.3" height="0.75" fill="#2b9f8f"/><rect x="127.88" y="384.82" width="0.7" height="0.89" fill="#2b9f8f"/><rect x="127.58" y="384.89" width="1.3" height="1.05" fill="#2b9f8f"/><rect x="130.44" y="384.79" width="0.7" height="0.51" fill="#2b9f8f"/><rect x="130.14" y="384.59" width="1.3" height="0.90" fill="#2b9f8f"/><rect x="133.00" y="384.77" width="0.7" height="0.91" fill="#e5546a"/><rect x="132.70" y="384.89" width="1.3" height="0.60" fill="#e5546a"/><rect x="135.55" y="385.26" width="0.7" height="0.49" fill="#e5546a"/><rect x="135.25" y="385.19" width="1.3" height="0.75" fill="#e5546a"/><rect x="138.11" y="385.46" width="0.7" height="0.35" fill="#2b9f8f"/><rect x="137.81" y="385.19" width="1.3" height="0.75" fill="#2b9f8f"/><rect x="140.67" y="385.34" width="0.7" height="0.66" fill="#e5546a"/><rect x="140.37" y="385.19" width="1.3" height="0.90" fill="#e5546a"/><rect x="143.22" y="385.46" width="0.7" height="0.72" fill="#e5546a"/><rect x="142.92" y="385.49" width="1.3" height="0.75" fill="#e5546a"/><rect x="145.78" y="385.75" width="0.7" height="0.70" fill="#e5546a"/><rect x="145.48" y="385.64" width="1.3" height="0.90" fill="#e5546a"/><rect x="148.34" y="386.01" width="0.7" height="0.42" fill="#e5546a"/><rect x="148.04" y="385.94" width="1.3" height="0.75" fill="#e5546a"/><rect x="150.90" y="386.11" width="0.7" height="0.68" fill="#e5546a"/><rect x="150.60" y="386.09" width="1.3" height="0.75" fill="#e5546a"/><rect x="153.45" y="386.27" width="0.7" height="0.66" fill="#e5546a"/><rect x="153.15" y="386.24" width="1.3" height="0.75" fill="#e5546a"/><rect x="156.01" y="386.40" width="0.7" height="0.42" fill="#2b9f8f"/><rect x="155.71" y="386.24" width="1.3" height="0.75" fill="#2b9f8f"/><rect x="158.57" y="386.18" width="0.7" height="0.56" fill="#2b9f8f"/><rect x="158.27" y="385.94" width="1.3" height="0.90" fill="#2b9f8f"/><rect x="161.12" y="385.89" width="0.7" height="0.40" fill="#2b9f8f"/><rect x="160.82" y="385.64" width="1.3" height="0.90" fill="#2b9f8f"/><rect x="163.68" y="385.24" width="0.7" height="0.78" fill="#2b9f8f"/><rect x="163.38" y="385.34" width="1.3" height="0.60" fill="#2b9f8f"/><rect x="166.24" y="384.89" width="0.7" height="0.50" fill="#2b9f8f"/><rect x="165.94" y="384.74" width="1.3" height="0.90" fill="#2b9f8f"/><rect x="168.80" y="385.01" width="0.7" height="0.71" fill="#e5546a"/><rect x="168.50" y="385.04" width="1.3" height="0.60" fill="#e5546a"/><rect x="171.35" y="385.42" width="0.7" height="0.36" fill="#2b9f8f"/><rect x="171.05" y="385.19" width="1.3" height="0.75" fill="#2b9f8f"/><rect x="173.91" y="385.45" width="0.7" height="0.64" fill="#e5546a"/><rect x="173.61" y="385.19" width="1.3" height="0.90" fill="#e5546a"/><rect x="176.47" y="385.57" width="0.7" height="0.45" fill="#e5546a"/><rect x="176.17" y="385.49" width="1.3" height="0.75" fill="#e5546a"/><rect x="179.02" y="385.83" width="0.7" height="0.39" fill="#e5546a"/><rect x="178.72" y="385.64" width="1.3" height="0.75" fill="#e5546a"/><rect x="181.58" y="385.95" width="0.7" height="0.50" fill="#e5546a"/><rect x="181.28" y="385.79" width="1.3" height="0.90" fill="#e5546a"/><rect x="184.14" y="386.12" width="0.7" height="1.00" fill="#e5546a"/><rect x="183.84" y="386.09" width="1.3" height="1.05" fill="#e5546a"/><rect x="186.69" y="386.38" width="0.7" height="0.61" fill="#2b9f8f"/><rect x="186.39" y="386.24" width="1.3" height="0.90" fill="#2b9f8f"/><rect x="189.25" y="386.34" width="0.7" height="0.26" fill="#2b9f8f"/><rect x="188.95" y="386.09" width="1.3" height="0.75" fill="#2b9f8f"/><rect x="191.81" y="386.26" width="0.7" height="0.53" fill="#e5546a"/><rect x="191.51" y="386.09" width="1.3" height="0.90" fill="#e5546a"/><rect x="194.37" y="386.44" width="0.7" height="0.62" fill="#e5546a"/><rect x="194.06" y="386.39" width="1.3" height="0.90" fill="#e5546a"/><rect x="196.92" y="386.65" width="0.7" height="0.60" fill="#2b9f8f"/><rect x="196.62" y="386.39" width="1.3" height="0.90" fill="#2b9f8f"/><rect x="199.48" y="386.06" width="0.7" height="0.70" fill="#2b9f8f"/><rect x="199.18" y="385.94" width="1.3" height="1.05" fill="#2b9f8f"/><rect x="202.04" y="386.05" width="0.7" height="0.68" fill="#e5546a"/><rect x="201.74" y="385.94" width="1.3" height="1.05" fill="#e5546a"/><rect x="204.59" y="386.52" width="0.7" height="0.74" fill="#e5546a"/><rect x="204.29" y="386.39" width="1.3" height="0.90" fill="#e5546a"/><rect x="207.15" y="385.80" width="0.7" height="1.39" fill="#2b9f8f"/><rect x="206.85" y="386.09" width="1.3" height="0.90" fill="#2b9f8f"/><rect x="209.71" y="385.98" width="0.7" height="0.54" fill="#e5546a"/><rect x="209.41" y="385.79" width="1.3" height="0.90" fill="#e5546a"/><rect x="212.26" y="385.10" width="0.7" height="1.54" fill="#2b9f8f"/><rect x="211.96" y="385.19" width="1.3" height="1.20" fill="#2b9f8f"/><rect x="214.82" y="384.04" width="0.7" height="1.44" fill="#2b9f8f"/><rect x="214.52" y="384.29" width="1.3" height="0.90" fill="#2b9f8f"/><rect x="217.38" y="384.12" width="0.7" height="0.87" fill="#e5546a"/><rect x="217.08" y="384.29" width="1.3" height="0.60" fill="#e5546a"/><rect x="219.94" y="384.56" width="0.7" height="1.00" fill="#e5546a"/><rect x="219.63" y="384.59" width="1.3" height="0.90" fill="#e5546a"/><rect x="222.49" y="382.34" width="0.7" height="3.15" fill="#2b9f8f"/><rect x="222.19" y="382.78" width="1.3" height="2.40" fill="#2b9f8f"/><rect x="225.05" y="380.79" width="0.7" height="2.38" fill="#2b9f8f"/><rect x="224.75" y="381.28" width="1.3" height="1.50" fill="#2b9f8f"/><rect x="227.61" y="380.51" width="0.7" height="1.09" fill="#2b9f8f"/><rect x="227.31" y="380.68" width="1.3" height="0.60" fill="#2b9f8f"/><rect x="230.16" y="380.44" width="0.7" height="0.29" fill="#2b9f8f"/><rect x="229.86" y="380.38" width="1.3" height="0.60" fill="#2b9f8f"/><rect x="232.72" y="380.63" width="0.7" height="1.43" fill="#e5546a"/><rect x="232.42" y="380.68" width="1.3" height="1.20" fill="#e5546a"/><rect x="235.28" y="380.80" width="0.7" height="1.48" fill="#2b9f8f"/><rect x="234.98" y="380.98" width="1.3" height="0.90" fill="#2b9f8f"/><rect x="237.83" y="380.40" width="0.7" height="2.05" fill="#e5546a"/><rect x="237.53" y="380.98" width="1.3" height="1.20" fill="#e5546a"/><rect x="240.39" y="381.67" width="0.7" height="1.33" fill="#e5546a"/><rect x="240.09" y="381.88" width="1.3" height="0.90" fill="#e5546a"/><rect x="242.95" y="381.98" width="0.7" height="1.01" fill="#e5546a"/><rect x="242.65" y="382.18" width="1.3" height="0.90" fill="#e5546a"/><rect x="245.50" y="380.82" width="0.7" height="2.10" fill="#2b9f8f"/><rect x="245.20" y="380.98" width="1.3" height="1.80" fill="#2b9f8f"/><rect x="248.06" y="379.62" width="0.7" height="1.51" fill="#2b9f8f"/><rect x="247.76" y="379.78" width="1.3" height="1.20" fill="#2b9f8f"/><rect x="250.62" y="379.34" width="0.7" height="1.90" fill="#e5546a"/><rect x="250.32" y="379.78" width="1.3" height="0.90" fill="#e5546a"/><rect x="253.18" y="380.15" width="0.7" height="1.72" fill="#e5546a"/><rect x="252.88" y="380.68" width="1.3" height="0.90" fill="#e5546a"/><rect x="255.73" y="380.57" width="0.7" height="1.48" fill="#2b9f8f"/><rect x="255.43" y="380.98" width="1.3" height="0.60" fill="#2b9f8f"/><rect x="258.29" y="380.90" width="0.7" height="1.07" fill="#e5546a"/><rect x="257.99" y="380.98" width="1.3" height="0.60" fill="#e5546a"/><rect x="260.85" y="380.42" width="0.7" height="1.61" fill="#2b9f8f"/><rect x="260.55" y="380.98" width="1.3" height="0.60" fill="#2b9f8f"/><rect x="263.40" y="380.20" width="0.7" height="1.08" fill="#2b9f8f"/><rect x="263.10" y="380.38" width="1.3" height="0.90" fill="#2b9f8f"/><rect x="265.96" y="380.24" width="0.7" height="0.94" fill="#2b9f8f"/><rect x="265.66" y="380.08" width="1.3" height="0.90" fill="#2b9f8f"/><rect x="268.52" y="379.84" width="0.7" height="1.06" fill="#2b9f8f"/><rect x="268.22" y="379.78" width="1.3" height="0.90" fill="#2b9f8f"/><rect x="271.07" y="378.17" width="0.7" height="2.19" fill="#2b9f8f"/><rect x="270.78" y="378.87" width="1.3" height="1.20" fill="#2b9f8f"/><rect x="273.63" y="378.57" width="0.7" height="2.14" fill="#e5546a"/><rect x="273.33" y="378.87" width="1.3" height="1.20" fill="#e5546a"/><rect x="276.19" y="379.59" width="0.7" height="1.22" fill="#e5546a"/><rect x="275.89" y="380.08" width="1.3" height="0.60" fill="#e5546a"/><rect x="278.75" y="379.66" width="0.7" height="1.13" fill="#2b9f8f"/><rect x="278.45" y="379.78" width="1.3" height="0.90" fill="#2b9f8f"/><rect x="281.30" y="378.22" width="0.7" height="2.11" fill="#2b9f8f"/><rect x="281.00" y="378.87" width="1.3" height="0.90" fill="#2b9f8f"/><rect x="283.86" y="377.53" width="0.7" height="1.95" fill="#2b9f8f"/><rect x="283.56" y="377.67" width="1.3" height="1.20" fill="#2b9f8f"/><rect x="286.42" y="375.95" width="0.7" height="2.26" fill="#2b9f8f"/><rect x="286.12" y="376.77" width="1.3" height="0.90" fill="#2b9f8f"/><rect x="288.97" y="374.62" width="0.7" height="2.63" fill="#2b9f8f"/><rect x="288.67" y="374.97" width="1.3" height="1.80" fill="#2b9f8f"/><rect x="291.53" y="373.30" width="0.7" height="1.71" fill="#2b9f8f"/><rect x="291.23" y="373.46" width="1.3" height="1.50" fill="#2b9f8f"/><rect x="294.09" y="370.89" width="0.7" height="3.25" fill="#2b9f8f"/><rect x="293.79" y="371.96" width="1.3" height="1.50" fill="#2b9f8f"/><rect x="296.64" y="369.82" width="0.7" height="3.18" fill="#2b9f8f"/><rect x="296.35" y="370.46" width="1.3" height="1.50" fill="#2b9f8f"/><rect x="299.20" y="369.93" width="0.7" height="3.86" fill="#e5546a"/><rect x="298.90" y="370.46" width="1.3" height="2.40" fill="#e5546a"/><rect x="301.76" y="371.99" width="0.7" height="1.72" fill="#e5546a"/><rect x="301.46" y="372.86" width="1.3" height="0.60" fill="#e5546a"/><rect x="304.32" y="367.09" width="0.7" height="6.70" fill="#2b9f8f"/><rect x="304.02" y="367.45" width="1.3" height="6.01" fill="#2b9f8f"/><rect x="306.87" y="367.10" width="0.7" height="1.74" fill="#e5546a"/><rect x="306.57" y="367.45" width="1.3" height="0.60" fill="#e5546a"/><rect x="309.43" y="363.12" width="0.7" height="5.51" fill="#2b9f8f"/><rect x="309.13" y="363.54" width="1.3" height="4.51" fill="#2b9f8f"/><rect x="311.99" y="361.50" width="0.7" height="3.48" fill="#2b9f8f"/><rect x="311.69" y="361.74" width="1.3" height="1.80" fill="#2b9f8f"/><rect x="314.54" y="361.13" width="0.7" height="2.56" fill="#e5546a"/><rect x="314.24" y="361.74" width="1.3" height="1.20" fill="#e5546a"/><rect x="317.10" y="362.00" width="0.7" height="4.40" fill="#e5546a"/><rect x="316.80" y="362.94" width="1.3" height="2.10" fill="#e5546a"/><rect x="319.66" y="364.41" width="0.7" height="2.86" fill="#e5546a"/><rect x="319.36" y="365.05" width="1.3" height="0.90" fill="#e5546a"/><rect x="322.21" y="362.43" width="0.7" height="4.29" fill="#2b9f8f"/><rect x="321.92" y="363.24" width="1.3" height="2.71" fill="#2b9f8f"/><rect x="324.77" y="362.40" width="0.7" height="3.31" fill="#e5546a"/><rect x="324.47" y="363.24" width="1.3" height="2.40" fill="#e5546a"/><rect x="327.33" y="364.99" width="0.7" height="2.73" fill="#e5546a"/><rect x="327.03" y="365.65" width="1.3" height="1.80" fill="#e5546a"/><rect x="329.89" y="364.71" width="0.7" height="3.83" fill="#2b9f8f"/><rect x="329.59" y="364.75" width="1.3" height="2.71" fill="#2b9f8f"/><rect x="332.44" y="356.27" width="0.7" height="9.20" fill="#2b9f8f"/><rect x="332.14" y="356.63" width="1.3" height="8.12" fill="#2b9f8f"/><rect x="335.00" y="355.21" width="0.7" height="6.89" fill="#e5546a"/><rect x="334.70" y="356.63" width="1.3" height="4.51" fill="#e5546a"/><rect x="337.56" y="356.28" width="0.7" height="5.75" fill="#2b9f8f"/><rect x="337.26" y="356.93" width="1.3" height="4.21" fill="#2b9f8f"/><rect x="340.11" y="347.17" width="0.7" height="11.28" fill="#2b9f8f"/><rect x="339.81" y="348.51" width="1.3" height="8.42" fill="#2b9f8f"/><rect x="342.67" y="344.91" width="0.7" height="4.96" fill="#2b9f8f"/><rect x="342.37" y="345.21" width="1.3" height="3.31" fill="#2b9f8f"/><rect x="345.23" y="336.19" width="0.7" height="9.75" fill="#2b9f8f"/><rect x="344.93" y="337.39" width="1.3" height="7.82" fill="#2b9f8f"/><rect x="347.78" y="334.09" width="0.7" height="16.54" fill="#e5546a"/><rect x="347.49" y="337.39" width="1.3" height="12.02" fill="#e5546a"/><rect x="350.34" y="348.09" width="0.7" height="4.27" fill="#e5546a"/><rect x="350.04" y="349.42" width="1.3" height="1.20" fill="#e5546a"/><rect x="352.90" y="348.54" width="0.7" height="4.28" fill="#e5546a"/><rect x="352.60" y="350.62" width="1.3" height="1.20" fill="#e5546a"/><rect x="355.46" y="350.45" width="0.7" height="8.58" fill="#e5546a"/><rect x="355.16" y="351.82" width="1.3" height="3.61" fill="#e5546a"/><rect x="358.01" y="343.87" width="0.7" height="12.96" fill="#2b9f8f"/><rect x="357.71" y="345.21" width="1.3" height="10.22" fill="#2b9f8f"/><rect x="360.57" y="344.03" width="0.7" height="8.11" fill="#e5546a"/><rect x="360.27" y="345.21" width="1.3" height="5.71" fill="#e5546a"/><rect x="363.13" y="345.50" width="0.7" height="7.55" fill="#2b9f8f"/><rect x="362.83" y="346.71" width="1.3" height="4.21" fill="#2b9f8f"/><rect x="365.68" y="344.96" width="0.7" height="9.38" fill="#e5546a"/><rect x="365.38" y="346.71" width="1.3" height="5.71" fill="#e5546a"/><rect x="368.24" y="350.37" width="0.7" height="4.12" fill="#e5546a"/><rect x="367.94" y="352.42" width="1.3" height="1.50" fill="#e5546a"/><rect x="370.80" y="349.33" width="0.7" height="6.57" fill="#2b9f8f"/><rect x="370.50" y="350.62" width="1.3" height="3.31" fill="#2b9f8f"/><rect x="373.35" y="347.44" width="0.7" height="3.52" fill="#2b9f8f"/><rect x="373.06" y="349.42" width="1.3" height="1.20" fill="#2b9f8f"/><rect x="375.91" y="349.10" width="0.7" height="3.12" fill="#e5546a"/><rect x="375.61" y="349.42" width="1.3" height="1.80" fill="#e5546a"/><rect x="378.47" y="345.60" width="0.7" height="6.19" fill="#2b9f8f"/><rect x="378.17" y="345.81" width="1.3" height="5.41" fill="#2b9f8f"/><rect x="381.03" y="345.59" width="0.7" height="5.40" fill="#e5546a"/><rect x="380.73" y="345.81" width="1.3" height="3.61" fill="#e5546a"/><rect x="383.58" y="340.05" width="0.7" height="11.48" fill="#2b9f8f"/><rect x="383.28" y="342.20" width="1.3" height="7.21" fill="#2b9f8f"/><rect x="386.14" y="341.75" width="0.7" height="7.91" fill="#e5546a"/><rect x="385.84" y="342.20" width="1.3" height="5.71" fill="#e5546a"/><rect x="388.70" y="344.74" width="0.7" height="3.54" fill="#2b9f8f"/><rect x="388.40" y="346.41" width="1.3" height="1.50" fill="#2b9f8f"/><rect x="391.25" y="344.19" width="0.7" height="6.93" fill="#e5546a"/><rect x="390.95" y="346.41" width="1.3" height="2.40" fill="#e5546a"/><rect x="393.81" y="348.27" width="0.7" height="4.52" fill="#e5546a"/><rect x="393.51" y="348.81" width="1.3" height="1.80" fill="#e5546a"/><rect x="396.37" y="349.69" width="0.7" height="2.93" fill="#e5546a"/><rect x="396.07" y="350.62" width="1.3" height="0.90" fill="#e5546a"/><rect x="398.92" y="347.09" width="0.7" height="6.29" fill="#2b9f8f"/><rect x="398.62" y="349.42" width="1.3" height="2.10" fill="#2b9f8f"/><rect x="401.48" y="349.01" width="0.7" height="2.61" fill="#e5546a"/><rect x="401.18" y="349.42" width="1.3" height="1.20" fill="#e5546a"/><rect x="404.04" y="349.43" width="0.7" height="2.87" fill="#e5546a"/><rect x="403.74" y="350.62" width="1.3" height="0.90" fill="#e5546a"/><rect x="406.60" y="348.93" width="0.7" height="3.32" fill="#2b9f8f"/><rect x="406.30" y="349.42" width="1.3" height="2.10" fill="#2b9f8f"/><rect x="409.15" y="347.71" width="0.7" height="3.28" fill="#e5546a"/><rect x="408.85" y="349.42" width="1.3" height="1.50" fill="#e5546a"/><rect x="411.71" y="345.63" width="0.7" height="6.31" fill="#2b9f8f"/><rect x="411.41" y="347.01" width="1.3" height="3.91" fill="#2b9f8f"/><rect x="414.27" y="346.94" width="0.7" height="3.28" fill="#e5546a"/><rect x="413.97" y="347.01" width="1.3" height="2.40" fill="#e5546a"/><rect x="416.82" y="347.94" width="0.7" height="4.15" fill="#e5546a"/><rect x="416.52" y="349.42" width="1.3" height="1.50" fill="#e5546a"/><rect x="419.38" y="350.75" width="0.7" height="3.82" fill="#e5546a"/><rect x="419.08" y="350.92" width="1.3" height="1.50" fill="#e5546a"/><rect x="421.94" y="343.17" width="0.7" height="11.37" fill="#2b9f8f"/><rect x="421.64" y="345.21" width="1.3" height="7.21" fill="#2b9f8f"/><rect x="424.50" y="340.38" width="0.7" height="5.54" fill="#2b9f8f"/><rect x="424.20" y="340.70" width="1.3" height="4.51" fill="#2b9f8f"/><rect x="427.05" y="335.14" width="0.7" height="7.77" fill="#2b9f8f"/><rect x="426.75" y="335.29" width="1.3" height="5.41" fill="#2b9f8f"/><rect x="429.61" y="333.20" width="0.7" height="2.52" fill="#2b9f8f"/><rect x="429.31" y="334.09" width="1.3" height="1.20" fill="#2b9f8f"/><rect x="432.17" y="329.65" width="0.7" height="7.35" fill="#2b9f8f"/><rect x="431.87" y="331.08" width="1.3" height="3.01" fill="#2b9f8f"/><rect x="434.72" y="328.33" width="0.7" height="5.42" fill="#e5546a"/><rect x="434.42" y="331.08" width="1.3" height="1.80" fill="#e5546a"/><rect x="437.28" y="332.37" width="0.7" height="5.22" fill="#e5546a"/><rect x="436.98" y="332.88" width="1.3" height="1.80" fill="#e5546a"/><rect x="439.84" y="329.77" width="0.7" height="7.13" fill="#2b9f8f"/><rect x="439.54" y="331.68" width="1.3" height="3.01" fill="#2b9f8f"/><rect x="442.39" y="319.58" width="0.7" height="12.32" fill="#2b9f8f"/><rect x="442.09" y="319.96" width="1.3" height="11.72" fill="#2b9f8f"/><rect x="444.95" y="312.23" width="0.7" height="9.43" fill="#2b9f8f"/><rect x="444.65" y="315.15" width="1.3" height="4.81" fill="#2b9f8f"/><rect x="447.51" y="314.81" width="0.7" height="11.72" fill="#e5546a"/><rect x="447.21" y="315.15" width="1.3" height="7.82" fill="#e5546a"/><rect x="450.06" y="315.56" width="0.7" height="10.45" fill="#2b9f8f"/><rect x="449.76" y="318.15" width="1.3" height="4.81" fill="#2b9f8f"/><rect x="452.62" y="308.42" width="0.7" height="13.21" fill="#2b9f8f"/><rect x="452.32" y="308.83" width="1.3" height="9.32" fill="#2b9f8f"/><rect x="455.18" y="306.99" width="0.7" height="5.79" fill="#2b9f8f"/><rect x="454.88" y="307.33" width="1.3" height="1.50" fill="#2b9f8f"/><rect x="457.74" y="302.12" width="0.7" height="6.81" fill="#2b9f8f"/><rect x="457.44" y="304.33" width="1.3" height="3.01" fill="#2b9f8f"/><rect x="460.29" y="301.64" width="0.7" height="11.43" fill="#e5546a"/><rect x="459.99" y="304.33" width="1.3" height="4.51" fill="#e5546a"/><rect x="462.85" y="305.15" width="0.7" height="4.31" fill="#2b9f8f"/><rect x="462.55" y="306.43" width="1.3" height="2.40" fill="#2b9f8f"/><rect x="465.41" y="301.77" width="0.7" height="5.81" fill="#2b9f8f"/><rect x="465.11" y="304.33" width="1.3" height="2.10" fill="#2b9f8f"/><rect x="467.96" y="303.77" width="0.7" height="5.53" fill="#e5546a"/><rect x="467.66" y="304.33" width="1.3" height="4.21" fill="#e5546a"/><rect x="470.52" y="308.27" width="0.7" height="8.35" fill="#e5546a"/><rect x="470.22" y="308.53" width="1.3" height="7.21" fill="#e5546a"/><rect x="473.08" y="308.92" width="0.7" height="8.13" fill="#2b9f8f"/><rect x="472.78" y="310.34" width="1.3" height="5.41" fill="#2b9f8f"/><rect x="475.63" y="306.92" width="0.7" height="8.29" fill="#e5546a"/><rect x="475.34" y="310.34" width="1.3" height="3.61" fill="#e5546a"/><rect x="478.19" y="311.78" width="0.7" height="5.33" fill="#e5546a"/><rect x="477.89" y="313.95" width="1.3" height="2.40" fill="#e5546a"/><rect x="480.75" y="289.00" width="0.7" height="39.08" fill="#2b9f8f"/><rect x="480.45" y="293.80" width="1.3" height="22.55" fill="#2b9f8f"/><rect x="483.31" y="284.49" width="0.7" height="15.44" fill="#e5546a"/><rect x="483.01" y="293.80" width="1.3" height="6.01" fill="#e5546a"/><rect x="485.86" y="288.27" width="0.7" height="14.35" fill="#2b9f8f"/><rect x="485.56" y="292.30" width="1.3" height="7.51" fill="#2b9f8f"/><rect x="488.42" y="285.16" width="0.7" height="9.76" fill="#2b9f8f"/><rect x="488.12" y="286.29" width="1.3" height="6.01" fill="#2b9f8f"/><rect x="490.98" y="262.52" width="0.7" height="24.41" fill="#2b9f8f"/><rect x="490.68" y="268.86" width="1.3" height="17.43" fill="#2b9f8f"/><rect x="493.53" y="263.30" width="0.7" height="25.52" fill="#e5546a"/><rect x="493.23" y="268.86" width="1.3" height="17.43" fill="#e5546a"/><rect x="496.09" y="257.15" width="0.7" height="34.00" fill="#2b9f8f"/><rect x="495.79" y="260.74" width="1.3" height="25.55" fill="#2b9f8f"/><rect x="498.65" y="243.14" width="0.7" height="21.27" fill="#2b9f8f"/><rect x="498.35" y="246.31" width="1.3" height="14.43" fill="#2b9f8f"/><rect x="501.20" y="240.79" width="0.7" height="23.92" fill="#e5546a"/><rect x="500.91" y="246.31" width="1.3" height="11.12" fill="#e5546a"/><rect x="503.76" y="254.88" width="0.7" height="13.31" fill="#e5546a"/><rect x="503.46" y="257.43" width="1.3" height="4.81" fill="#e5546a"/><rect x="506.32" y="250.94" width="0.7" height="15.85" fill="#2b9f8f"/><rect x="506.02" y="256.23" width="1.3" height="6.01" fill="#2b9f8f"/><rect x="508.88" y="253.19" width="0.7" height="13.03" fill="#e5546a"/><rect x="508.58" y="256.23" width="1.3" height="7.51" fill="#e5546a"/><rect x="511.43" y="256.40" width="0.7" height="8.29" fill="#2b9f8f"/><rect x="511.13" y="256.83" width="1.3" height="6.91" fill="#2b9f8f"/><rect x="513.99" y="241.19" width="0.7" height="21.16" fill="#2b9f8f"/><rect x="513.69" y="241.80" width="1.3" height="15.03" fill="#2b9f8f"/><rect x="516.55" y="239.67" width="0.7" height="13.94" fill="#e5546a"/><rect x="516.25" y="241.80" width="1.3" height="10.52" fill="#e5546a"/><rect x="519.10" y="251.65" width="0.7" height="10.30" fill="#e5546a"/><rect x="518.80" y="252.32" width="1.3" height="3.31" fill="#e5546a"/><rect x="521.66" y="249.09" width="0.7" height="17.95" fill="#e5546a"/><rect x="521.36" y="255.63" width="1.3" height="6.61" fill="#e5546a"/><rect x="524.22" y="252.27" width="0.7" height="11.72" fill="#2b9f8f"/><rect x="523.92" y="254.43" width="1.3" height="7.82" fill="#2b9f8f"/><rect x="526.77" y="252.19" width="0.7" height="12.47" fill="#e5546a"/><rect x="526.48" y="254.43" width="1.3" height="6.91" fill="#e5546a"/><rect x="529.33" y="260.18" width="0.7" height="8.07" fill="#e5546a"/><rect x="529.03" y="261.34" width="1.3" height="0.90" fill="#e5546a"/><rect x="531.89" y="249.67" width="0.7" height="19.44" fill="#2b9f8f"/><rect x="531.59" y="251.72" width="1.3" height="10.52" fill="#2b9f8f"/><rect x="534.45" y="244.21" width="0.7" height="20.49" fill="#e5546a"/><rect x="534.15" y="251.72" width="1.3" height="9.02" fill="#e5546a"/><rect x="537.00" y="258.95" width="0.7" height="13.81" fill="#e5546a"/><rect x="536.70" y="260.74" width="1.3" height="2.10" fill="#e5546a"/><rect x="539.56" y="255.43" width="0.7" height="15.83" fill="#2b9f8f"/><rect x="539.26" y="257.73" width="1.3" height="5.11" fill="#2b9f8f"/><rect x="542.12" y="245.71" width="0.7" height="19.28" fill="#e5546a"/><rect x="541.82" y="257.73" width="1.3" height="4.51" fill="#e5546a"/><rect x="544.67" y="258.84" width="0.7" height="19.94" fill="#e5546a"/><rect x="544.37" y="262.24" width="1.3" height="5.41" fill="#e5546a"/><rect x="547.23" y="259.26" width="0.7" height="11.86" fill="#2b9f8f"/><rect x="546.93" y="260.74" width="1.3" height="6.91" fill="#2b9f8f"/><rect x="549.79" y="254.66" width="0.7" height="8.01" fill="#2b9f8f"/><rect x="549.49" y="254.73" width="1.3" height="6.01" fill="#2b9f8f"/><rect x="552.34" y="231.58" width="0.7" height="26.18" fill="#2b9f8f"/><rect x="552.04" y="233.38" width="1.3" height="21.34" fill="#2b9f8f"/><rect x="554.90" y="232.18" width="0.7" height="19.44" fill="#e5546a"/><rect x="554.60" y="233.38" width="1.3" height="18.04" fill="#e5546a"/><rect x="557.46" y="215.65" width="0.7" height="37.60" fill="#2b9f8f"/><rect x="557.16" y="222.26" width="1.3" height="29.16" fill="#2b9f8f"/><rect x="560.02" y="220.16" width="0.7" height="81.16" fill="#e5546a"/><rect x="559.72" y="222.26" width="1.3" height="61.02" fill="#e5546a"/><rect x="562.57" y="253.75" width="0.7" height="33.48" fill="#2b9f8f"/><rect x="562.27" y="259.24" width="1.3" height="24.05" fill="#2b9f8f"/><rect x="565.13" y="254.00" width="0.7" height="34.55" fill="#e5546a"/><rect x="564.83" y="259.24" width="1.3" height="24.05" fill="#e5546a"/><rect x="567.69" y="280.94" width="0.7" height="16.13" fill="#e5546a"/><rect x="567.39" y="283.28" width="1.3" height="12.02" fill="#e5546a"/><rect x="570.24" y="277.27" width="0.7" height="56.21" fill="#e5546a"/><rect x="569.94" y="295.31" width="1.3" height="21.04" fill="#e5546a"/><rect x="572.80" y="289.88" width="0.7" height="29.15" fill="#2b9f8f"/><rect x="572.50" y="293.80" width="1.3" height="22.55" fill="#2b9f8f"/><rect x="575.36" y="293.54" width="0.7" height="11.95" fill="#e5546a"/><rect x="575.06" y="293.80" width="1.3" height="7.52" fill="#e5546a"/><rect x="577.91" y="277.95" width="0.7" height="26.52" fill="#2b9f8f"/><rect x="577.62" y="283.28" width="1.3" height="18.04" fill="#2b9f8f"/><rect x="580.47" y="278.89" width="0.7" height="20.75" fill="#e5546a"/><rect x="580.17" y="283.28" width="1.3" height="12.02" fill="#e5546a"/><rect x="583.03" y="294.54" width="0.7" height="12.33" fill="#e5546a"/><rect x="582.73" y="295.31" width="1.3" height="9.02" fill="#e5546a"/><rect x="585.59" y="301.88" width="0.7" height="12.22" fill="#e5546a"/><rect x="585.29" y="304.33" width="1.3" height="6.01" fill="#e5546a"/><rect x="588.14" y="298.87" width="0.7" height="15.19" fill="#2b9f8f"/><rect x="587.84" y="302.82" width="1.3" height="7.51" fill="#2b9f8f"/><rect x="590.70" y="290.64" width="0.7" height="16.57" fill="#2b9f8f"/><rect x="590.40" y="293.80" width="1.3" height="9.02" fill="#2b9f8f"/><rect x="593.26" y="290.11" width="0.7" height="13.24" fill="#e5546a"/><rect x="592.96" y="293.80" width="1.3" height="6.01" fill="#e5546a"/><rect x="595.81" y="291.02" width="0.7" height="8.99" fill="#2b9f8f"/><rect x="595.51" y="292.30" width="1.3" height="7.51" fill="#2b9f8f"/><rect x="598.37" y="273.38" width="0.7" height="20.92" fill="#2b9f8f"/><rect x="598.07" y="274.27" width="1.3" height="18.04" fill="#2b9f8f"/><rect x="600.93" y="273.56" width="0.7" height="13.30" fill="#e5546a"/><rect x="600.63" y="274.27" width="1.3" height="7.52" fill="#e5546a"/><rect x="603.49" y="262.89" width="0.7" height="22.71" fill="#2b9f8f"/><rect x="603.19" y="266.75" width="1.3" height="15.03" fill="#2b9f8f"/><rect x="606.04" y="257.76" width="0.7" height="13.69" fill="#2b9f8f"/><rect x="605.74" y="262.24" width="1.3" height="4.51" fill="#2b9f8f"/><rect x="608.60" y="258.73" width="0.7" height="14.08" fill="#e5546a"/><rect x="608.30" y="262.24" width="1.3" height="10.52" fill="#e5546a"/><rect x="611.16" y="262.82" width="0.7" height="14.86" fill="#2b9f8f"/><rect x="610.86" y="268.25" width="1.3" height="4.51" fill="#2b9f8f"/><rect x="613.71" y="257.09" width="0.7" height="14.82" fill="#2b9f8f"/><rect x="613.41" y="260.74" width="1.3" height="7.51" fill="#2b9f8f"/><rect x="616.27" y="255.97" width="0.7" height="12.76" fill="#e5546a"/><rect x="615.97" y="260.74" width="1.3" height="7.51" fill="#e5546a"/><rect x="618.83" y="263.23" width="0.7" height="23.07" fill="#e5546a"/><rect x="618.53" y="268.25" width="1.3" height="16.53" fill="#e5546a"/><rect x="621.38" y="278.28" width="0.7" height="8.09" fill="#2b9f8f"/><rect x="621.08" y="278.77" width="1.3" height="6.01" fill="#2b9f8f"/><rect x="623.94" y="269.53" width="0.7" height="10.54" fill="#2b9f8f"/><rect x="623.64" y="274.27" width="1.3" height="4.51" fill="#2b9f8f"/><rect x="626.50" y="264.77" width="0.7" height="15.81" fill="#2b9f8f"/><rect x="626.20" y="269.76" width="1.3" height="4.51" fill="#2b9f8f"/><rect x="629.05" y="266.42" width="0.7" height="11.81" fill="#e5546a"/><rect x="628.75" y="269.76" width="1.3" height="6.01" fill="#e5546a"/><rect x="631.61" y="264.98" width="0.7" height="15.17" fill="#2b9f8f"/><rect x="631.31" y="268.25" width="1.3" height="7.51" fill="#2b9f8f"/><rect x="634.17" y="263.03" width="0.7" height="13.80" fill="#e5546a"/><rect x="633.87" y="268.25" width="1.3" height="4.51" fill="#e5546a"/><rect x="636.73" y="268.54" width="0.7" height="15.24" fill="#e5546a"/><rect x="636.43" y="272.76" width="1.3" height="10.52" fill="#e5546a"/><rect x="639.28" y="282.38" width="0.7" height="4.82" fill="#e5546a"/><rect x="638.98" y="283.28" width="1.3" height="2.40" fill="#e5546a"/><rect x="641.84" y="278.83" width="0.7" height="8.66" fill="#2b9f8f"/><rect x="641.54" y="283.28" width="1.3" height="2.40" fill="#2b9f8f"/><rect x="644.40" y="279.87" width="0.7" height="33.47" fill="#e5546a"/><rect x="644.10" y="283.28" width="1.3" height="27.05" fill="#e5546a"/><rect x="646.95" y="299.48" width="0.7" height="30.10" fill="#2b9f8f"/><rect x="646.65" y="299.82" width="1.3" height="10.52" fill="#2b9f8f"/><rect x="649.51" y="291.72" width="0.7" height="11.61" fill="#2b9f8f"/><rect x="649.21" y="295.31" width="1.3" height="4.51" fill="#2b9f8f"/><rect x="652.07" y="287.03" width="0.7" height="9.85" fill="#2b9f8f"/><rect x="651.77" y="290.80" width="1.3" height="4.51" fill="#2b9f8f"/><rect x="654.62" y="287.91" width="0.7" height="12.82" fill="#e5546a"/><rect x="654.32" y="290.80" width="1.3" height="7.51" fill="#e5546a"/><rect x="657.18" y="291.27" width="0.7" height="7.68" fill="#2b9f8f"/><rect x="656.88" y="293.80" width="1.3" height="4.51" fill="#2b9f8f"/><rect x="659.74" y="284.24" width="0.7" height="10.66" fill="#2b9f8f"/><rect x="659.44" y="289.30" width="1.3" height="4.51" fill="#2b9f8f"/><rect x="662.30" y="279.02" width="0.7" height="15.57" fill="#2b9f8f"/><rect x="662.00" y="284.79" width="1.3" height="4.51" fill="#2b9f8f"/><rect x="664.85" y="281.65" width="0.7" height="5.87" fill="#2b9f8f"/><rect x="664.55" y="281.78" width="1.3" height="3.01" fill="#2b9f8f"/><rect x="667.41" y="275.23" width="0.7" height="12.42" fill="#2b9f8f"/><rect x="667.11" y="280.28" width="1.3" height="1.50" fill="#2b9f8f"/><rect x="669.97" y="277.50" width="0.7" height="10.38" fill="#e5546a"/><rect x="669.67" y="280.28" width="1.3" height="6.01" fill="#e5546a"/><rect x="672.52" y="282.61" width="0.7" height="9.18" fill="#2b9f8f"/><rect x="672.22" y="283.89" width="1.3" height="2.40" fill="#2b9f8f"/><rect x="675.08" y="279.57" width="0.7" height="7.79" fill="#2b9f8f"/><rect x="674.78" y="280.88" width="1.3" height="3.01" fill="#2b9f8f"/><rect x="677.64" y="279.99" width="0.7" height="7.91" fill="#e5546a"/><rect x="677.34" y="280.88" width="1.3" height="3.91" fill="#e5546a"/><rect x="680.20" y="279.17" width="0.7" height="10.91" fill="#e5546a"/><rect x="679.90" y="284.79" width="1.3" height="4.51" fill="#e5546a"/><rect x="682.75" y="281.51" width="0.7" height="10.67" fill="#2b9f8f"/><rect x="682.45" y="286.29" width="1.3" height="3.01" fill="#2b9f8f"/><rect x="685.31" y="273.25" width="0.7" height="17.14" fill="#2b9f8f"/><rect x="685.01" y="278.77" width="1.3" height="7.51" fill="#2b9f8f"/><rect x="687.87" y="277.31" width="0.7" height="19.92" fill="#e5546a"/><rect x="687.57" y="278.77" width="1.3" height="13.53" fill="#e5546a"/><rect x="690.42" y="286.53" width="0.7" height="5.93" fill="#2b9f8f"/><rect x="690.12" y="289.30" width="1.3" height="3.01" fill="#2b9f8f"/><rect x="692.98" y="289.25" width="0.7" height="10.16" fill="#e5546a"/><rect x="692.68" y="289.30" width="1.3" height="7.51" fill="#e5546a"/><rect x="695.54" y="289.81" width="0.7" height="8.60" fill="#2b9f8f"/><rect x="695.24" y="292.30" width="1.3" height="4.51" fill="#2b9f8f"/><rect x="698.09" y="291.50" width="0.7" height="10.08" fill="#e5546a"/><rect x="697.79" y="292.30" width="1.3" height="7.51" fill="#e5546a"/><rect x="700.65" y="298.19" width="0.7" height="8.76" fill="#e5546a"/><rect x="700.35" y="299.82" width="1.3" height="3.01" fill="#e5546a"/><rect x="703.21" y="298.28" width="0.7" height="8.24" fill="#2b9f8f"/><rect x="702.91" y="298.31" width="1.3" height="4.51" fill="#2b9f8f"/><rect x="705.76" y="293.98" width="0.7" height="12.44" fill="#e5546a"/><rect x="705.47" y="298.31" width="1.3" height="7.51" fill="#e5546a"/><rect x="708.32" y="301.43" width="0.7" height="13.56" fill="#e5546a"/><rect x="708.02" y="305.83" width="1.3" height="6.01" fill="#e5546a"/><rect x="710.88" y="304.71" width="0.7" height="8.43" fill="#2b9f8f"/><rect x="710.58" y="308.83" width="1.3" height="3.01" fill="#2b9f8f"/><rect x="713.44" y="307.11" width="0.7" height="5.01" fill="#e5546a"/><rect x="713.14" y="308.83" width="1.3" height="1.50" fill="#e5546a"/><rect x="715.99" y="305.85" width="0.7" height="14.42" fill="#e5546a"/><rect x="715.69" y="310.34" width="1.3" height="7.51" fill="#e5546a"/><rect x="718.55" y="316.36" width="0.7" height="7.50" fill="#e5546a"/><rect x="718.25" y="317.85" width="1.3" height="4.51" fill="#e5546a"/><rect x="721.11" y="309.08" width="0.7" height="13.50" fill="#2b9f8f"/><rect x="720.81" y="310.34" width="1.3" height="12.02" fill="#2b9f8f"/><rect x="723.66" y="305.32" width="0.7" height="8.77" fill="#2b9f8f"/><rect x="723.36" y="305.83" width="1.3" height="4.51" fill="#2b9f8f"/><rect x="726.22" y="301.40" width="0.7" height="8.87" fill="#2b9f8f"/><rect x="725.92" y="302.82" width="1.3" height="3.01" fill="#2b9f8f"/><rect x="728.78" y="300.05" width="0.7" height="4.10" fill="#2b9f8f"/><rect x="728.48" y="301.32" width="1.3" height="1.50" fill="#2b9f8f"/><rect x="731.33" y="298.76" width="0.7" height="8.00" fill="#e5546a"/><rect x="731.03" y="301.32" width="1.3" height="4.51" fill="#e5546a"/><rect x="733.89" y="304.04" width="0.7" height="7.75" fill="#e5546a"/><rect x="733.59" y="305.83" width="1.3" height="1.50" fill="#e5546a"/><rect x="736.45" y="303.21" width="0.7" height="9.35" fill="#e5546a"/><rect x="736.15" y="307.33" width="1.3" height="1.50" fill="#e5546a"/><rect x="739.01" y="305.94" width="0.7" height="7.94" fill="#e5546a"/><rect x="738.71" y="308.83" width="1.3" height="0.90" fill="#e5546a"/><rect x="741.56" y="290.30" width="0.7" height="21.94" fill="#2b9f8f"/><rect x="741.26" y="295.31" width="1.3" height="14.43" fill="#2b9f8f"/><rect x="744.12" y="286.78" width="0.7" height="8.82" fill="#2b9f8f"/><rect x="743.82" y="290.80" width="1.3" height="4.51" fill="#2b9f8f"/><rect x="746.68" y="275.77" width="0.7" height="17.56" fill="#2b9f8f"/><rect x="746.38" y="280.28" width="1.3" height="10.52" fill="#2b9f8f"/><rect x="749.23" y="275.64" width="0.7" height="14.41" fill="#e5546a"/><rect x="748.93" y="280.28" width="1.3" height="6.01" fill="#e5546a"/><rect x="751.79" y="284.60" width="0.7" height="6.50" fill="#e5546a"/><rect x="751.49" y="286.29" width="1.3" height="4.51" fill="#e5546a"/><rect x="754.35" y="279.32" width="0.7" height="12.22" fill="#2b9f8f"/><rect x="754.05" y="284.79" width="1.3" height="6.01" fill="#2b9f8f"/><rect x="756.90" y="278.90" width="0.7" height="7.93" fill="#2b9f8f"/><rect x="756.61" y="281.78" width="1.3" height="3.01" fill="#2b9f8f"/><rect x="759.46" y="276.90" width="0.7" height="9.37" fill="#2b9f8f"/><rect x="759.16" y="278.77" width="1.3" height="3.01" fill="#2b9f8f"/><rect x="762.02" y="264.77" width="0.7" height="15.64" fill="#2b9f8f"/><rect x="761.72" y="271.26" width="1.3" height="7.51" fill="#2b9f8f"/><rect x="764.58" y="266.89" width="0.7" height="10.82" fill="#e5546a"/><rect x="764.28" y="271.26" width="1.3" height="4.51" fill="#e5546a"/><rect x="767.13" y="272.19" width="0.7" height="9.06" fill="#e5546a"/><rect x="766.83" y="275.77" width="1.3" height="3.01" fill="#e5546a"/><rect x="769.69" y="270.12" width="0.7" height="9.68" fill="#2b9f8f"/><rect x="769.39" y="271.26" width="1.3" height="7.51" fill="#2b9f8f"/><rect x="772.25" y="265.29" width="0.7" height="11.99" fill="#2b9f8f"/><rect x="771.95" y="266.75" width="1.3" height="4.51" fill="#2b9f8f"/><rect x="774.80" y="258.68" width="0.7" height="9.61" fill="#2b9f8f"/><rect x="774.50" y="262.24" width="1.3" height="4.51" fill="#2b9f8f"/><rect x="777.36" y="255.77" width="0.7" height="17.85" fill="#e5546a"/><rect x="777.06" y="262.24" width="1.3" height="4.51" fill="#e5546a"/><rect x="779.92" y="253.47" width="0.7" height="14.27" fill="#2b9f8f"/><rect x="779.62" y="256.83" width="1.3" height="9.92" fill="#2b9f8f"/><rect x="782.47" y="255.38" width="0.7" height="6.05" fill="#e5546a"/><rect x="782.17" y="256.83" width="1.3" height="3.91" fill="#e5546a"/><rect x="785.03" y="217.15" width="0.7" height="45.09" fill="#2b9f8f"/><rect x="784.73" y="223.16" width="1.3" height="37.58" fill="#2b9f8f"/><rect x="787.59" y="184.09" width="0.7" height="41.50" fill="#2b9f8f"/><rect x="787.29" y="205.13" width="1.3" height="18.04" fill="#2b9f8f"/><rect x="790.15" y="193.06" width="0.7" height="21.19" fill="#2b9f8f"/><rect x="789.85" y="199.12" width="1.3" height="6.01" fill="#2b9f8f"/><rect x="792.70" y="149.52" width="0.7" height="54.00" fill="#2b9f8f"/><rect x="792.40" y="172.06" width="1.3" height="27.05" fill="#2b9f8f"/><rect x="795.26" y="167.04" width="0.7" height="14.30" fill="#e5546a"/><rect x="794.96" y="172.06" width="1.3" height="3.01" fill="#e5546a"/><rect x="797.82" y="146.21" width="0.7" height="32.91" fill="#2b9f8f"/><rect x="797.52" y="154.03" width="1.3" height="21.04" fill="#2b9f8f"/><rect x="800.37" y="144.11" width="0.7" height="28.38" fill="#e5546a"/><rect x="800.07" y="154.03" width="1.3" height="15.03" fill="#e5546a"/><rect x="802.93" y="150.85" width="0.7" height="19.77" fill="#2b9f8f"/><rect x="802.63" y="163.04" width="1.3" height="6.01" fill="#2b9f8f"/><rect x="805.49" y="156.69" width="0.7" height="17.20" fill="#e5546a"/><rect x="805.19" y="163.04" width="1.3" height="3.01" fill="#e5546a"/><rect x="808.04" y="155.32" width="0.7" height="26.80" fill="#e5546a"/><rect x="807.75" y="166.05" width="1.3" height="13.53" fill="#e5546a"/><rect x="810.60" y="170.29" width="0.7" height="12.22" fill="#2b9f8f"/><rect x="810.30" y="173.56" width="1.3" height="6.01" fill="#2b9f8f"/><rect x="813.16" y="153.38" width="0.7" height="25.56" fill="#2b9f8f"/><rect x="812.86" y="158.53" width="1.3" height="15.03" fill="#2b9f8f"/><rect x="815.72" y="111.48" width="0.7" height="57.96" fill="#2b9f8f"/><rect x="815.42" y="125.47" width="1.3" height="33.07" fill="#2b9f8f"/><rect x="818.27" y="95.71" width="0.7" height="30.11" fill="#2b9f8f"/><rect x="817.97" y="102.20" width="1.3" height="23.27" fill="#2b9f8f"/><rect x="820.83" y="97.36" width="0.7" height="17.25" fill="#e5546a"/><rect x="820.53" y="102.20" width="1.3" height="7.79" fill="#e5546a"/></g><line x1="5" y1="109.99" x2="961" y2="109.99" stroke="#3a3b4a" stroke-width="0.8"/><line x1="961.2" y1="13.5" x2="961.2" y2="550" stroke="#30323e" stroke-width="0.8"/><line x1="5" y1="537.7" x2="995" y2="537.7" stroke="#30323e" stroke-width="0.8"/><g clip-path="url(#ca)"><text x="966.72" y="529.17" textLength="17.28" lengthAdjust="spacingAndGlyphs" font-family="Liberation Sans, sans-serif" font-size="6.0" fill="#c3c5cd" stroke="#c3c5cd" stroke-width="0.15">−45.00</text><text x="966.72" y="514.14" textLength="17.28" lengthAdjust="spacingAndGlyphs" font-family="Liberation Sans, sans-serif" font-size="6.0" fill="#c3c5cd" stroke="#c3c5cd" stroke-width="0.15">−40.00</text><text x="966.72" y="499.11" textLength="17.28" lengthAdjust="spacingAndGlyphs" font-family="Liberation Sans, sans-serif" font-size="6.0" fill="#c3c5cd" stroke="#c3c5cd" stroke-width="0.15">−35.00</text><text x="966.72" y="484.08" textLength="17.28" lengthAdjust="spacingAndGlyphs" font-family="Liberation Sans, sans-serif" font-size="6.0" fill="#c3c5cd" stroke="#c3c5cd" stroke-width="0.15">−30.00</text><text x="966.72" y="469.05" textLength="17.28" lengthAdjust="spacingAndGlyphs" font-family="Liberation Sans, sans-serif" font-size="6.0" fill="#c3c5cd" stroke="#c3c5cd" stroke-width="0.15">−25.00</text><text x="966.72" y="454.02" textLength="17.28" lengthAdjust="spacingAndGlyphs" font-family="Liberation Sans, sans-serif" font-size="6.0" fill="#c3c5cd" stroke="#c3c5cd" stroke-width="0.15">−20.00</text><text x="966.72" y="438.99" textLength="17.28" lengthAdjust="spacingAndGlyphs" font-family="Liberation Sans, sans-serif" font-size="6.0" fill="#c3c5cd" stroke="#c3c5cd" stroke-width="0.15">−15.00</text><text x="966.72" y="423.96" textLength="17.28" lengthAdjust="spacingAndGlyphs" font-family="Liberation Sans, sans-serif" font-size="6.0" fill="#c3c5cd" stroke="#c3c5cd" stroke-width="0.15">−10.00</text><text x="969.83" y="408.93" textLength="14.17" lengthAdjust="spacingAndGlyphs" font-family="Liberation Sans, sans-serif" font-size="6.0" fill="#c3c5cd" stroke="#c3c5cd" stroke-width="0.15">−5.00</text><text x="973.10" y="393.90" textLength="10.90" lengthAdjust="spacingAndGlyphs" font-family="Liberation Sans, sans-serif" font-size="6.0" fill="#c3c5cd" stroke="#c3c5cd" stroke-width="0.15">0.00</text><text x="973.10" y="378.87" textLength="10.90" lengthAdjust="spacingAndGlyphs" font-family="Liberation Sans, sans-serif" font-size="6.0" fill="#c3c5cd" stroke="#c3c5cd" stroke-width="0.15">5.00</text><text x="969.99" y="363.84" textLength="14.01" lengthAdjust="spacingAndGlyphs" font-family="Liberation Sans, sans-serif" font-size="6.0" fill="#c3c5cd" stroke="#c3c5cd" stroke-width="0.15">10.00</text><text x="969.99" y="348.81" textLength="14.01" lengthAdjust="spacingAndGlyphs" font-family="Liberation Sans, sans-serif" font-size="6.0" fill="#c3c5cd" stroke="#c3c5cd" stroke-width="0.15">15.00</text><text x="969.99" y="333.78" textLength="14.01" lengthAdjust="spacingAndGlyphs" font-family="Liberation Sans, sans-serif" font-size="6.0" fill="#c3c5cd" stroke="#c3c5cd" stroke-width="0.15">20.00</text><text x="969.99" y="318.75" textLength="14.01" lengthAdjust="spacingAndGlyphs" font-family="Liberation Sans, sans-serif" font-size="6.0" fill="#c3c5cd" stroke="#c3c5cd" stroke-width="0.15">25.00</text><text x="969.99" y="303.72" textLength="14.01" lengthAdjust="spacingAndGlyphs" font-family="Liberation Sans, sans-serif" font-size="6.0" fill="#c3c5cd" stroke="#c3c5cd" stroke-width="0.15">30.00</text><text x="969.99" y="288.69" textLength="14.01" lengthAdjust="spacingAndGlyphs" font-family="Liberation Sans, sans-serif" font-size="6.0" fill="#c3c5cd" stroke="#c3c5cd" stroke-width="0.15">35.00</text><text x="969.99" y="273.66" textLength="14.01" lengthAdjust="spacingAndGlyphs" font-family="Liberation Sans, sans-serif" font-size="6.0" fill="#c3c5cd" stroke="#c3c5cd" stroke-width="0.15">40.00</text><text x="969.99" y="258.63" textLength="14.01" lengthAdjust="spacingAndGlyphs" font-family="Liberation Sans, sans-serif" font-size="6.0" fill="#c3c5cd" stroke="#c3c5cd" stroke-width="0.15">45.00</text><text x="969.99" y="243.60" textLength="14.01" lengthAdjust="spacingAndGlyphs" font-family="Liberation Sans, sans-serif" font-size="6.0" fill="#c3c5cd" stroke="#c3c5cd" stroke-width="0.15">50.00</text><text x="969.99" y="228.57" textLength="14.01" lengthAdjust="spacingAndGlyphs" font-family="Liberation Sans, sans-serif" font-size="6.0" fill="#c3c5cd" stroke="#c3c5cd" stroke-width="0.15">55.00</text><text x="969.99" y="213.54" textLength="14.01" lengthAdjust="spacingAndGlyphs" font-family="Liberation Sans, sans-serif" font-size="6.0" fill="#c3c5cd" stroke="#c3c5cd" stroke-width="0.15">60.00</text><text x="969.99" y="198.51" textLength="14.01" lengthAdjust="spacingAndGlyphs" font-family="Liberation Sans, sans-serif" font-size="6.0" fill="#c3c5cd" stroke="#c3c5cd" stroke-width="0.15">65.00</text><text x="969.99" y="183.48" textLength="14.01" lengthAdjust="spacingAndGlyphs" font-family="Liberation Sans, sans-serif" font-size="6.0" fill="#c3c5cd" stroke="#c3c5cd" stroke-width="0.15">70.00</text><text x="969.99" y="168.45" textLength="14.01" lengthAdjust="spacingAndGlyphs" font-family="Liberation Sans, sans-serif" font-size="6.0" fill="#c3c5cd" stroke="#c3c5cd" stroke-width="0.15">75.00</text><text x="969.99" y="153.42" textLength="14.01" lengthAdjust="spacingAndGlyphs" font-family="Liberation Sans, sans-serif" font-size="6.0" fill="#c3c5cd" stroke="#c3c5cd" stroke-width="0.15">80.00</text><text x="969.99" y="138.39" textLength="14.01" lengthAdjust="spacingAndGlyphs" font-family="Liberation Sans, sans-serif" font-size="6.0" fill="#c3c5cd" stroke="#c3c5cd" stroke-width="0.15">85.00</text><text x="969.99" y="123.36" textLength="14.01" lengthAdjust="spacingAndGlyphs" font-family="Liberation Sans, sans-serif" font-size="6.0" fill="#c3c5cd" stroke="#c3c5cd" stroke-width="0.15">90.00</text><text x="969.99" y="108.33" textLength="14.01" lengthAdjust="spacingAndGlyphs" font-family="Liberation Sans, sans-serif" font-size="6.0" fill="#c3c5cd" stroke="#c3c5cd" stroke-width="0.15">95.00</text><text x="966.88" y="93.30" textLength="17.12" lengthAdjust="spacingAndGlyphs" font-family="Liberation Sans, sans-serif" font-size="6.0" fill="#c3c5cd" stroke="#c3c5cd" stroke-width="0.15">100.00</text><text x="966.88" y="78.27" textLength="17.12" lengthAdjust="spacingAndGlyphs" font-family="Liberation Sans, sans-serif" font-size="6.0" fill="#c3c5cd" stroke="#c3c5cd" stroke-width="0.15">105.00</text><text x="966.88" y="63.24" textLength="17.12" lengthAdjust="spacingAndGlyphs" font-family="Liberation Sans, sans-serif" font-size="6.0" fill="#c3c5cd" stroke="#c3c5cd" stroke-width="0.15">110.00</text><text x="966.88" y="48.21" textLength="17.12" lengthAdjust="spacingAndGlyphs" font-family="Liberation Sans, sans-serif" font-size="6.0" fill="#c3c5cd" stroke="#c3c5cd" stroke-width="0.15">115.00</text><text x="966.88" y="33.18" textLength="17.12" lengthAdjust="spacingAndGlyphs" font-family="Liberation Sans, sans-serif" font-size="6.0" fill="#c3c5cd" stroke="#c3c5cd" stroke-width="0.15">120.00</text><text x="966.88" y="18.15" textLength="17.12" lengthAdjust="spacingAndGlyphs" font-family="Liberation Sans, sans-serif" font-size="6.0" fill="#c3c5cd" stroke="#c3c5cd" stroke-width="0.15">125.00</text></g><rect x="970.3" y="17.8" width="16.8" height="6.6" rx="1" fill="#191b26" stroke="#434651" stroke-width="0.4"/><text x="978.7" y="23.2" text-anchor="middle" font-family="Liberation Sans, sans-serif" font-size="6.2" fill="#c3c5cd">BUSD</text><rect x="961.6" y="105.9" width="31" height="15.3" fill="#ef5350"/><text x="965" y="112.6" font-family="Liberation Sans, sans-serif" font-size="6.4" fill="#ffffff">93.65</text><text x="965" y="119.8" font-family="Liberation Sans, sans-serif" font-size="6.4" fill="#ffffff">16:48:51</text><text x="51.52" y="546" text-anchor="middle" font-family="Liberation Sans, sans-serif" font-size="6.4" fill="#c3c5cd">Nov</text><text x="128.23" y="546" text-anchor="middle" font-family="Liberation Sans, sans-serif" font-size="6.4" fill="#c3c5cd">Dec</text><text x="207.50" y="546" text-anchor="middle" font-family="Liberation Sans, sans-serif" font-size="6.4" fill="#c3c5cd">2021</text><text x="286.77" y="546" text-anchor="middle" font-family="Liberation Sans, sans-serif" font-size="6.4" fill="#c3c5cd">Feb</text><text x="358.36" y="546" text-anchor="middle" font-family="Liberation Sans, sans-serif" font-size="6.4" fill="#c3c5cd">Mar</text><text x="437.63" y="546" text-anchor="middle" font-family="Liberation Sans, sans-serif" font-size="6.4" fill="#c3c5cd">Apr</text><text x="514.34" y="546" text-anchor="middle" font-family="Liberation Sans, sans-serif" font-size="6.4" fill="#c3c5cd">May</text><text x="593.61" y="546" text-anchor="middle" font-family="Liberation Sans, sans-serif" font-size="6.4" fill="#c3c5cd">Jun</text><text x="670.32" y="546" text-anchor="middle" font-family="Liberation Sans, sans-serif" font-size="6.4" fill="#c3c5cd">Jul</text><text x="749.58" y="546" text-anchor="middle" font-family="Liberation Sans, sans-serif" font-size="6.4" fill="#c3c5cd">Aug</text><text x="828.85" y="546" text-anchor="middle" font-family="Liberation Sans, sans-serif" font-size="6.4" fill="#c3c5cd">Sep</text><text x="905.56" y="546" text-anchor="middle" font-family="Liberation Sans, sans-serif" font-size="6.4" fill="#c3c5cd">Oct</text><text x="8.8" y="23.0" textLength="67.2" lengthAdjust="spacingAndGlyphs" font-family="Liberation Sans, sans-serif" font-size="6.7" fill="#c3c5cd" stroke="#c3c5cd" stroke-width="0.15" >SOL / BUSD, 1D, BINANCE</text><text x="80.5" y="23.0" textLength="3.5" lengthAdjust="spacingAndGlyphs" font-family="Liberation Sans, sans-serif" font-size="6.7" fill="#c3c5cd" stroke="#c3c5cd" stroke-width="0.15" >O</text><text x="84.0" y="23.0" textLength="14.700000000000003" lengthAdjust="spacingAndGlyphs" font-family="Liberation Sans, sans-serif" font-size="6.7" fill="#e2566a" stroke="#e2566a" stroke-width="0.15" >96.24</text><text x="102" y="23.0" textLength="3.700000000000003" lengthAdjust="spacingAndGlyphs" font-family="Liberation Sans, sans-serif" font-size="6.7" fill="#c3c5cd" stroke="#c3c5cd" stroke-width="0.15" >H</text><text x="105.7" y="23.0" textLength="14.700000000000003" lengthAdjust="spacingAndGlyphs" font-family="Liberation Sans, sans-serif" font-size="6.7" fill="#e2566a" stroke="#e2566a" stroke-width="0.15" >97.85</text><text x="124" y="23.0" textLength="2.700000000000003" lengthAdjust="spacingAndGlyphs" font-family="Liberation Sans, sans-serif" font-size="6.7" fill="#c3c5cd" stroke="#c3c5cd" stroke-width="0.15" >L</text><text x="126.7" y="23.0" textLength="13.999999999999986" lengthAdjust="spacingAndGlyphs" font-family="Liberation Sans, sans-serif" font-size="6.7" fill="#e2566a" stroke="#e2566a" stroke-width="0.15" >92.11</text><text x="145" y="23.0" textLength="3.4000000000000057" lengthAdjust="spacingAndGlyphs" font-family="Liberation Sans, sans-serif" font-size="6.7" fill="#c3c5cd" stroke="#c3c5cd" stroke-width="0.15" >C</text><text x="148.4" y="23.0" textLength="14.699999999999989" lengthAdjust="spacingAndGlyphs" font-family="Liberation Sans, sans-serif" font-size="6.7" fill="#e2566a" stroke="#e2566a" stroke-width="0.15" >93.65</text><text x="168.7" y="23.0" textLength="37.2" lengthAdjust="spacingAndGlyphs" font-family="Liberation Sans, sans-serif" font-size="6.7" fill="#e2566a" stroke="#e2566a" stroke-width="0.15" >−2.59 (−2.69%)</text><text x="8.8" y="30.9" textLength="8.0" lengthAdjust="spacingAndGlyphs" font-family="Liberation Sans, sans-serif" font-size="6.7" fill="#c3c5cd" stroke="#c3c5cd" stroke-width="0.15" >Vol</text><text x="20.8" y="30.9" textLength="25.6" lengthAdjust="spacingAndGlyphs" font-family="Liberation Sans, sans-serif" font-size="6.7" fill="#b05070" stroke="#b05070" stroke-width="0.15" >336.011K</text><text x="5" y="9.6" textLength="191" lengthAdjust="spacingAndGlyphs" font-family="Liberation Sans, sans-serif" font-size="6.6" fill="#444444" stroke="#444444" stroke-width="0.05" >marekhanran87 published on TradingView.com, Aug 29, 2021 07:11 UTC</text><g fill="#131722"><path d="M5.1 556.9 H8.8 V561.3 H6.9 V558.6 H5.1 Z"/><circle cx="10.5" cy="557.7" r="0.95"/><path d="M12.3 556.9 H14.1 L12.3 561.3 H10.6 Z"/></g><text x="16.4" y="561.4" textLength="34.6" lengthAdjust="spacingAndGlyphs" font-family="Liberation Sans, sans-serif" font-size="6.6" fill="#6c6c74" stroke="#6c6c74" stroke-width="0.1" >TradingView</text></g></svg>
</div></body></html>
